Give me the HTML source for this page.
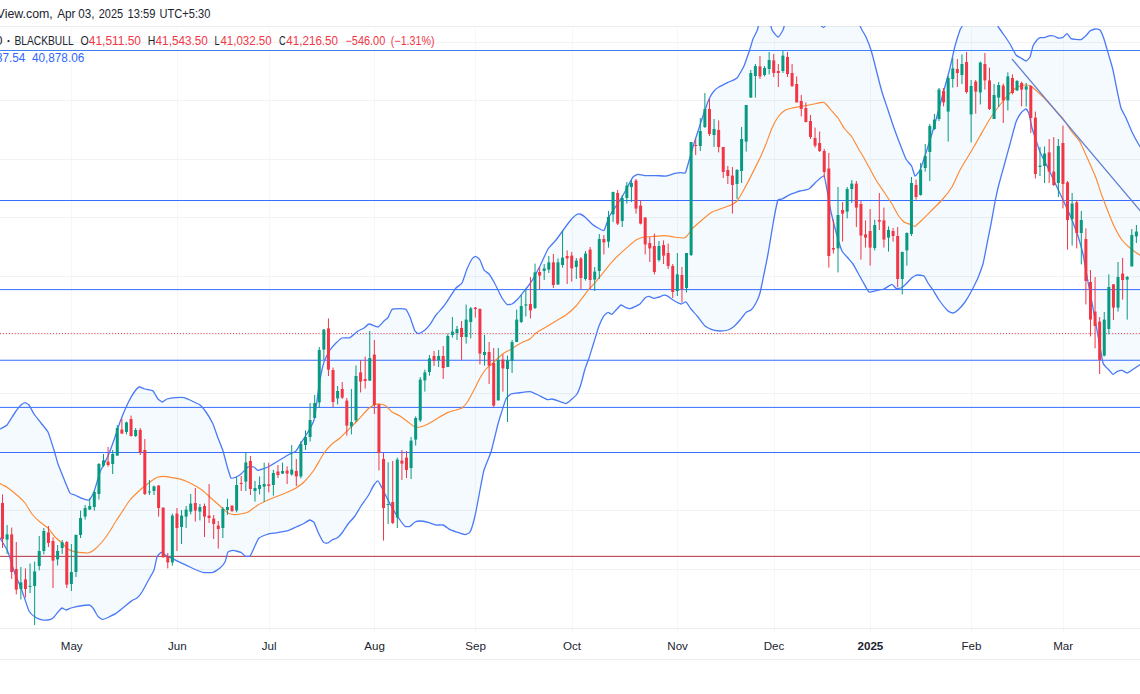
<!DOCTYPE html>
<html><head><meta charset="utf-8"><title>chart</title>
<style>
html,body{margin:0;padding:0;background:#fff;}
body{width:1140px;height:694px;position:relative;overflow:hidden;font-family:"Liberation Sans",sans-serif;color:#131722;}
svg text{font-family:"Liberation Sans",sans-serif;}
</style></head><body>
<svg width="1140" height="694" viewBox="0 0 1140 694" style="position:absolute;left:0;top:0"><defs><clipPath id="pane"><rect x="0" y="26" width="1140" height="602"/></clipPath></defs><rect x="71" y="26" width="1" height="606" fill="#f6f7f8"/><rect x="177" y="26" width="1" height="606" fill="#f6f7f8"/><rect x="269" y="26" width="1" height="606" fill="#f6f7f8"/><rect x="374" y="26" width="1" height="606" fill="#f6f7f8"/><rect x="475" y="26" width="1" height="606" fill="#f6f7f8"/><rect x="572" y="26" width="1" height="606" fill="#f6f7f8"/><rect x="677" y="26" width="1" height="606" fill="#f6f7f8"/><rect x="774" y="26" width="1" height="606" fill="#f6f7f8"/><rect x="870" y="26" width="1" height="606" fill="#f6f7f8"/><rect x="971" y="26" width="1" height="606" fill="#f6f7f8"/><rect x="1063" y="26" width="1" height="606" fill="#f6f7f8"/><rect x="0" y="42" width="1140" height="1" fill="#f1f3f4"/><rect x="0" y="100" width="1140" height="1" fill="#f1f3f4"/><rect x="0" y="159" width="1140" height="1" fill="#f1f3f4"/><rect x="0" y="217" width="1140" height="1" fill="#f1f3f4"/><rect x="0" y="276" width="1140" height="1" fill="#f1f3f4"/><rect x="0" y="334" width="1140" height="1" fill="#f1f3f4"/><rect x="0" y="393" width="1140" height="1" fill="#f1f3f4"/><rect x="0" y="452" width="1140" height="1" fill="#f1f3f4"/><rect x="0" y="510" width="1140" height="1" fill="#f1f3f4"/><rect x="0" y="569" width="1140" height="1" fill="#f1f3f4"/><rect x="0" y="26" width="1140" height="1" fill="#ececee"/><rect x="0" y="628" width="1140" height="1" fill="#ebecee"/><rect x="0" y="659" width="1140" height="1" fill="#ebecee"/><g clip-path="url(#pane)"><path d="M0.0,429.0C0.5,428.7 5.8,426.4 7.0,425.0C8.2,423.6 14.9,412.5 16.0,411.0C17.1,409.5 20.3,405.6 21.0,405.0C21.7,404.4 24.4,402.6 25.0,402.6C25.6,402.6 28.3,404.1 29.0,405.0C29.7,405.9 33.1,412.6 34.0,414.0C34.9,415.4 40.0,421.6 41.0,423.0C42.0,424.4 47.0,430.0 48.0,432.0C49.0,434.0 53.2,447.6 54.0,450.0C54.8,452.4 57.2,461.8 58.0,464.0C58.8,466.2 63.1,476.8 64.0,479.0C64.9,481.2 69.2,491.8 70.0,493.0C70.8,494.2 74.1,494.6 75.0,495.0C75.9,495.4 81.0,498.0 82.0,498.4C83.0,498.8 88.1,500.5 89.0,500.0C89.9,499.5 93.2,494.1 94.0,492.0C94.8,489.9 99.0,474.7 100.0,472.0C101.0,469.3 107.0,458.4 108.0,456.0C109.0,453.6 113.1,442.6 114.0,440.0C114.9,437.4 119.0,424.8 120.0,422.0C121.0,419.2 126.9,405.3 128.0,403.0C129.1,400.7 134.1,392.2 135.0,391.0C135.9,389.8 138.7,387.1 139.4,387.0C140.2,386.9 144.0,388.7 145.0,389.0C146.0,389.3 152.0,390.2 153.0,391.0C154.0,391.8 157.3,398.2 158.0,399.0C158.7,399.8 161.7,402.0 162.4,402.0C163.1,402.0 166.0,399.3 167.0,399.0C168.0,398.7 174.7,397.7 176.0,397.6C177.3,397.5 182.8,397.3 184.0,397.6C185.2,397.9 190.8,400.4 192.0,401.0C193.2,401.6 198.9,404.2 200.0,405.0C201.1,405.8 205.0,410.6 206.0,412.0C207.0,413.4 212.1,422.1 213.0,424.0C213.9,425.9 217.2,436.0 218.0,438.0C218.8,440.0 222.3,448.8 223.0,451.0C223.7,453.2 227.0,466.0 227.6,468.0C228.2,470.0 230.4,477.3 231.0,478.0C231.6,478.7 235.2,477.3 236.0,477.0C236.8,476.7 240.1,474.8 241.0,474.0C241.9,473.2 247.0,467.5 248.0,467.0C249.0,466.5 253.2,466.7 254.0,467.0C254.8,467.3 256.9,470.4 258.0,470.4C259.1,470.4 266.5,467.7 268.0,467.0C269.5,466.3 276.5,461.9 278.0,461.0C279.5,460.1 286.6,455.8 288.0,455.0C289.4,454.2 295.0,451.9 296.0,451.0C297.0,450.1 300.1,444.4 301.0,443.0C301.9,441.6 307.0,433.7 308.0,432.0C309.0,430.3 313.4,421.8 314.0,420.0C314.6,418.2 315.6,411.0 316.0,408.0C316.4,405.0 319.4,383.4 320.0,380.0C320.6,376.6 323.2,364.2 324.0,362.0C324.8,359.8 329.1,351.4 330.0,350.0C330.9,348.6 335.1,343.9 336.0,343.0C336.9,342.1 340.9,338.4 342.0,338.0C343.1,337.6 348.8,338.1 350.0,337.6C351.2,337.1 356.9,331.7 358.0,331.0C359.1,330.3 363.2,328.5 364.0,328.0C364.8,327.5 367.9,324.1 369.0,324.0C370.1,323.9 376.9,327.2 378.0,327.0C379.1,326.8 383.2,321.7 384.0,321.0C384.8,320.3 387.4,318.5 388.0,317.6C388.6,316.7 391.1,310.1 392.0,309.4C392.9,308.7 398.9,308.6 400.0,308.6C401.1,308.6 405.2,308.8 406.0,309.4C406.8,310.0 409.3,315.4 410.0,317.0C410.7,318.6 414.3,329.8 415.0,331.0C415.7,332.2 418.2,333.7 419.0,333.6C419.8,333.5 424.2,330.7 425.0,330.0C425.8,329.3 429.2,325.5 430.0,324.4C430.8,323.3 435.0,316.3 436.0,315.0C437.0,313.7 442.1,308.1 443.0,307.0C443.9,305.9 447.0,301.4 448.0,300.0C449.0,298.6 454.9,289.3 456.0,288.0C457.1,286.7 461.2,284.4 462.0,283.0C462.8,281.6 466.2,270.8 467.0,269.0C467.8,267.2 471.4,259.9 472.0,259.0C472.6,258.1 475.0,256.3 475.6,256.4C476.2,256.5 479.4,259.0 480.0,260.0C480.6,261.0 483.3,268.9 484.0,270.0C484.7,271.1 488.2,273.1 489.0,274.0C489.8,274.9 493.2,280.6 494.0,282.0C494.8,283.4 498.4,290.8 499.0,292.0C499.6,293.2 501.4,297.1 502.0,298.0C502.6,298.9 506.2,303.9 507.0,304.4C507.8,304.8 511.2,304.4 512.0,304.0C512.8,303.6 517.0,299.9 518.0,298.8C519.0,297.8 524.2,291.0 525.0,290.0C525.8,289.0 528.4,285.8 529.0,285.0C529.6,284.2 532.2,280.4 533.0,279.0C533.8,277.6 538.9,268.2 540.0,266.0C541.1,263.8 546.8,250.9 548.0,249.0C549.2,247.1 554.8,241.5 556.0,240.0C557.2,238.5 563.0,230.4 564.0,229.0C565.0,227.6 569.1,222.1 570.0,221.0C570.9,219.9 575.2,215.5 576.0,215.0C576.8,214.5 579.2,213.8 580.0,214.0C580.8,214.2 585.1,217.2 586.0,218.0C586.9,218.8 591.1,223.2 592.0,224.0C592.9,224.8 597.1,227.5 598.0,228.0C598.9,228.5 603.2,231.2 604.0,230.4C604.8,229.6 608.1,218.8 609.0,217.0C609.9,215.2 615.0,207.5 616.0,206.0C617.0,204.5 621.1,198.5 622.0,197.0C622.9,195.5 627.2,187.5 628.0,186.0C628.8,184.5 632.2,177.9 633.0,177.0C633.8,176.1 637.0,174.5 638.0,174.4C639.0,174.3 644.6,175.5 646.0,175.6C647.4,175.7 654.5,175.6 656.0,175.6C657.5,175.6 664.6,176.2 666.0,176.0C667.4,175.8 672.9,173.9 674.0,173.6C675.1,173.3 680.1,172.7 681.0,172.6C681.9,172.5 684.8,174.1 685.6,172.4C686.4,170.7 691.0,153.3 692.0,150.0C693.0,146.7 698.0,131.0 699.0,128.0C700.0,125.0 704.2,112.2 705.0,110.0C705.8,107.8 708.3,100.4 709.0,99.0C709.7,97.6 713.2,91.9 714.0,91.0C714.8,90.1 718.0,87.6 719.0,87.0C720.0,86.4 726.6,83.1 728.0,82.4C729.4,81.7 735.8,79.2 737.0,78.0C738.2,76.8 743.1,68.0 744.0,66.0C744.9,64.0 748.3,54.0 749.0,52.0C749.7,50.0 752.4,40.6 753.0,39.0C753.6,37.4 756.5,32.1 757.0,31.0C757.5,29.9 758.5,25.3 759.0,24.0C759.5,22.7 762.3,14.8 763.0,14.0C763.7,13.2 767.3,12.8 768.0,14.0C768.7,15.2 771.2,28.3 772.0,30.0C772.8,31.7 777.2,37.0 778.0,37.0C778.8,37.0 782.4,31.1 783.0,30.0C783.6,28.9 784.7,23.1 786.0,22.0C787.3,20.9 797.8,15.2 800.0,15.0C802.2,14.8 813.2,19.1 815.0,20.0C816.8,20.9 822.4,27.5 823.5,27.5C824.6,27.5 828.0,20.9 830.0,20.0C832.0,19.1 847.9,14.8 850.0,15.0C852.1,15.2 857.1,20.9 858.0,22.0C858.9,23.1 861.4,28.9 862.0,30.0C862.6,31.1 865.3,35.5 866.0,37.0C866.7,38.5 870.2,47.6 871.0,50.0C871.8,52.4 875.2,65.8 876.0,69.0C876.8,72.2 881.1,88.9 882.0,92.0C882.9,95.1 887.1,107.3 888.0,110.0C888.9,112.7 893.1,125.5 894.0,128.0C894.9,130.6 899.1,141.7 900.0,144.0C900.9,146.3 905.1,157.3 906.0,159.0C906.9,160.7 910.9,164.7 911.6,166.0C912.3,167.3 914.4,175.7 915.0,176.0C915.6,176.3 919.3,171.3 920.0,170.0C920.7,168.7 923.2,161.1 924.0,158.8C924.8,156.6 929.0,143.2 930.0,140.0C931.0,136.8 936.0,119.8 937.0,116.0C938.0,112.2 943.0,93.6 944.0,90.0C945.0,86.4 949.2,71.3 950.0,68.0C950.8,64.7 954.2,48.9 955.0,46.0C955.8,43.1 959.5,31.5 960.0,30.0C960.5,28.5 961.7,27.3 962.0,26.4C962.3,25.5 963.2,19.2 964.0,18.0C964.8,16.8 970.2,10.6 972.0,10.0C973.8,9.4 986.3,9.4 988.0,10.0C989.7,10.6 994.2,16.8 995.0,18.0C995.8,19.2 997.3,25.1 998.0,26.4C998.7,27.7 1003.1,33.7 1004.0,35.0C1004.9,36.3 1009.1,42.5 1010.0,44.0C1010.9,45.5 1015.2,54.0 1016.0,55.0C1016.8,56.0 1020.2,57.5 1021.0,58.0C1021.8,58.5 1025.3,61.1 1026.0,61.0C1026.7,60.9 1029.5,58.1 1030.0,57.0C1030.5,55.9 1032.5,47.3 1033.0,46.0C1033.5,44.7 1036.5,40.6 1037.0,40.0C1037.5,39.4 1039.5,37.8 1040.0,37.6C1040.5,37.4 1043.2,37.8 1044.0,37.6C1044.8,37.5 1049.2,35.7 1050.0,35.6C1050.8,35.5 1053.4,35.8 1054.0,36.0C1054.6,36.2 1057.3,37.9 1058.0,38.0C1058.7,38.1 1062.3,37.7 1063.0,37.4C1063.7,37.1 1066.4,33.5 1067.0,33.6C1067.6,33.7 1070.3,38.2 1071.0,38.6C1071.7,39.0 1075.2,39.3 1076.0,39.4C1076.8,39.5 1080.2,39.9 1081.0,39.6C1081.8,39.3 1085.3,36.2 1086.0,35.6C1086.7,35.0 1089.3,31.5 1090.0,31.0C1090.7,30.5 1094.2,29.1 1095.0,29.0C1095.8,28.9 1099.3,29.2 1100.0,30.0C1100.7,30.8 1103.3,37.0 1104.0,39.0C1104.7,41.0 1108.3,53.7 1109.0,56.0C1109.7,58.3 1112.4,67.5 1113.0,70.0C1113.6,72.5 1116.4,87.2 1117.0,90.0C1117.6,92.8 1120.3,105.9 1121.0,108.0C1121.7,110.1 1125.2,116.2 1126.0,118.0C1126.8,119.8 1131.0,129.9 1132.0,132.0C1133.0,134.1 1138.7,144.5 1139.6,146.0C1140.5,147.5 1143.7,151.6 1144.0,152.0L1144.0,362.0C1143.7,362.2 1140.5,364.4 1139.6,365.0C1138.7,365.6 1132.9,369.4 1132.0,370.0C1131.1,370.6 1127.8,373.0 1127.0,373.0C1126.2,373.0 1122.8,370.5 1122.0,370.4C1121.2,370.3 1117.7,371.3 1117.0,371.6C1116.3,371.9 1113.6,374.5 1113.0,374.4C1112.4,374.3 1109.8,370.9 1109.0,370.0C1108.2,369.1 1103.8,365.6 1103.0,363.0C1102.2,360.4 1098.8,340.1 1098.0,336.0C1097.2,331.9 1093.8,312.1 1093.0,308.0C1092.2,303.9 1088.8,286.1 1088.0,282.0C1087.2,277.9 1083.8,257.4 1083.0,254.0C1082.2,250.6 1078.8,238.6 1078.0,236.0C1077.2,233.4 1073.0,222.6 1072.0,220.0C1071.0,217.4 1065.2,204.6 1064.0,202.0C1062.8,199.4 1057.2,187.6 1056.0,185.0C1054.8,182.4 1049.2,170.5 1048.0,168.0C1046.8,165.5 1040.9,154.1 1040.0,152.0C1039.1,149.9 1036.6,141.8 1036.0,140.0C1035.4,138.2 1032.5,129.9 1032.0,128.0C1031.5,126.0 1029.5,115.4 1029.0,114.0C1028.5,112.6 1026.6,109.1 1026.0,109.0C1025.4,108.9 1021.8,112.0 1021.0,113.0C1020.2,114.0 1016.8,119.7 1016.0,122.0C1015.2,124.3 1010.9,140.7 1010.0,144.0C1009.1,147.3 1004.8,163.0 1004.0,166.0C1003.2,169.0 999.7,181.3 999.0,184.0C998.3,186.7 995.6,199.0 995.0,202.0C994.4,205.0 991.6,220.8 991.0,224.0C990.4,227.2 987.6,241.0 987.0,244.0C986.4,247.0 983.7,261.4 983.0,264.0C982.3,266.6 978.5,276.6 978.0,278.0C977.5,279.4 976.5,280.9 976.0,282.0C975.5,283.1 971.8,290.5 971.0,292.0C970.2,293.5 966.0,300.6 965.0,302.0C964.0,303.4 958.9,309.2 958.0,310.0C957.1,310.8 953.8,312.9 953.0,313.0C952.2,313.1 949.0,312.0 948.0,311.0C947.0,310.0 940.1,301.6 939.0,300.0C937.9,298.4 933.8,291.3 933.0,290.0C932.2,288.7 928.7,284.1 928.0,283.0C927.3,281.9 924.8,276.6 924.0,276.0C923.2,275.4 917.9,274.9 917.0,275.0C916.1,275.1 912.4,277.3 911.6,278.0C910.8,278.7 906.8,283.2 906.0,284.0C905.2,284.8 901.8,287.7 901.0,288.0C900.2,288.3 896.7,288.7 896.0,288.4C895.3,288.1 892.9,284.4 892.0,284.4C891.1,284.4 885.2,288.5 884.0,289.0C882.8,289.5 877.1,290.4 876.0,290.6C874.9,290.8 870.0,292.6 869.0,292.0C868.0,291.4 863.8,283.4 863.0,282.0C862.2,280.6 858.8,274.4 858.0,273.0C857.2,271.6 853.8,265.1 853.0,264.0C852.2,262.9 848.8,259.0 848.0,258.0C847.2,257.0 842.9,252.9 842.0,251.0C841.1,249.1 836.8,234.9 836.0,232.0C835.2,229.1 831.7,215.2 831.0,212.0C830.3,208.8 827.5,192.7 827.0,190.0C826.5,187.3 824.8,176.6 824.0,176.0C823.2,175.4 817.1,181.0 816.0,182.0C814.9,183.0 810.2,188.3 809.0,189.0C807.8,189.7 801.2,190.7 800.0,191.0C798.8,191.3 793.9,193.1 793.0,193.4C792.1,193.7 788.8,195.2 788.0,195.6C787.2,196.0 782.8,198.7 782.0,199.0C781.2,199.3 778.5,199.3 778.0,200.0C777.5,200.7 776.4,206.2 776.0,208.0C775.6,209.8 773.6,220.6 773.0,224.0C772.4,227.4 768.7,250.2 768.0,254.0C767.3,257.8 764.6,271.1 764.0,274.0C763.4,276.9 760.6,290.8 760.0,293.0C759.4,295.2 756.7,301.7 756.0,303.0C755.3,304.3 751.8,309.3 751.0,310.0C750.2,310.7 746.8,311.6 746.0,312.4C745.2,313.1 740.9,318.9 740.0,320.0C739.1,321.1 734.9,325.6 734.0,326.4C733.1,327.1 729.0,329.7 728.0,330.0C727.0,330.3 721.2,331.0 720.0,331.0C718.8,331.0 713.1,330.0 712.0,329.6C710.9,329.2 706.0,326.9 705.0,326.0C704.0,325.1 699.0,318.3 698.0,317.0C697.0,315.7 691.9,310.1 691.0,309.0C690.1,307.9 686.8,302.4 686.0,302.0C685.2,301.6 682.0,304.1 681.0,304.0C680.0,303.9 674.0,300.6 673.0,300.0C672.0,299.4 668.7,296.8 668.0,296.4C667.3,296.0 664.7,295.2 664.0,295.2C663.3,295.2 659.8,296.8 659.0,297.0C658.2,297.2 654.8,298.4 654.0,298.4C653.2,298.4 649.7,296.4 649.0,296.4C648.3,296.4 645.7,297.4 645.0,298.0C644.3,298.6 641.0,303.2 640.0,304.0C639.0,304.8 632.0,308.1 631.0,308.4C630.0,308.7 626.8,307.9 626.0,307.6C625.2,307.3 621.8,304.8 621.0,305.0C620.2,305.2 616.7,309.3 616.0,310.0C615.3,310.7 612.6,314.2 612.0,314.4C611.4,314.6 608.6,312.3 608.0,312.4C607.4,312.5 604.7,314.6 604.0,315.6C603.3,316.6 599.8,324.0 599.0,326.0C598.2,328.0 594.8,339.6 594.0,342.0C593.2,344.4 589.7,356.0 589.0,358.0C588.3,360.0 585.6,367.1 585.0,369.0C584.4,370.9 581.6,382.1 581.0,384.0C580.4,385.9 577.7,392.9 577.0,394.0C576.3,395.1 572.8,398.3 572.0,399.0C571.2,399.7 566.9,403.4 566.0,403.6C565.1,403.8 561.0,401.9 560.0,401.6C559.0,401.3 553.0,399.1 552.0,399.0C551.0,398.9 548.0,399.9 547.0,399.6C546.0,399.3 539.3,395.6 538.0,395.0C536.7,394.4 531.5,391.8 530.0,391.6C528.5,391.5 519.4,392.8 518.0,393.0C516.6,393.2 511.9,393.6 511.0,394.0C510.1,394.4 506.8,397.5 506.0,399.0C505.2,400.5 501.6,412.1 501.0,414.0C500.4,415.9 498.8,421.1 498.0,424.0C497.2,426.9 492.1,448.6 491.0,452.0C489.9,455.4 484.8,467.1 484.0,470.0C483.2,472.9 480.5,487.3 480.0,490.0C479.5,492.7 477.4,503.8 477.0,506.0C476.6,508.2 474.5,518.0 474.0,520.0C473.5,522.0 470.7,530.9 470.0,532.0C469.3,533.1 465.9,534.6 465.0,534.6C464.1,534.6 459.1,532.8 458.0,532.4C456.9,532.0 451.1,530.2 450.0,529.6C448.9,529.0 444.1,525.3 443.0,525.0C441.9,524.7 437.1,525.2 436.0,525.0C434.9,524.8 429.2,522.7 428.0,522.4C426.8,522.1 421.0,521.0 420.0,521.0C419.0,521.0 415.8,521.6 415.0,522.0C414.2,522.4 410.8,526.1 410.0,526.4C409.2,526.7 405.8,526.9 405.0,526.4C404.2,525.9 400.8,521.2 400.0,520.0C399.2,518.8 394.9,512.5 394.0,511.0C393.1,509.5 388.9,501.7 388.0,500.0C387.1,498.3 382.8,489.4 382.0,488.0C381.2,486.6 378.6,481.2 378.0,481.0C377.4,480.8 374.8,483.9 374.0,485.0C373.2,486.1 369.0,494.4 368.0,496.0C367.0,497.6 362.0,504.5 361.0,506.0C360.0,507.5 356.0,514.6 355.0,516.0C354.0,517.4 349.0,522.7 348.0,524.0C347.0,525.3 342.8,532.0 342.0,533.0C341.2,534.0 337.8,537.5 337.0,538.0C336.2,538.5 332.7,539.6 332.0,540.0C331.3,540.4 328.6,542.8 328.0,543.0C327.4,543.2 324.4,543.2 323.6,542.4C322.9,541.6 318.7,533.5 318.0,532.0C317.3,530.5 314.6,523.3 314.0,522.4C313.4,521.5 310.4,519.9 309.6,520.0C308.8,520.1 304.0,523.5 303.0,524.0C302.0,524.5 297.1,526.5 296.0,527.0C294.9,527.5 289.4,530.2 288.0,530.6C286.6,531.0 279.5,532.3 278.0,532.6C276.5,532.9 269.4,533.6 268.0,534.0C266.6,534.4 260.1,537.0 259.0,538.0C257.9,539.0 254.7,546.6 254.0,548.0C253.3,549.4 250.7,555.4 250.0,556.0C249.3,556.6 245.7,556.3 245.0,556.0C244.3,555.7 241.9,552.8 241.0,552.4C240.1,552.0 234.0,550.4 233.0,550.4C232.0,550.4 228.6,551.1 228.0,552.0C227.4,552.9 225.6,560.8 225.0,562.0C224.4,563.2 220.9,567.2 220.0,568.0C219.1,568.8 214.3,572.1 213.0,572.4C211.7,572.7 204.6,572.7 203.0,572.4C201.4,572.1 193.7,568.8 192.0,568.0C190.3,567.2 181.5,563.1 180.0,562.4C178.5,561.7 173.2,559.0 172.0,558.4C170.8,557.8 164.8,554.9 164.0,554.4C163.2,553.9 161.5,552.2 161.0,552.4C160.5,552.6 157.5,555.7 157.0,557.0C156.5,558.3 154.7,568.2 154.0,570.0C153.3,571.8 148.9,579.4 148.0,581.0C147.1,582.6 142.8,590.7 142.0,592.0C141.2,593.3 137.8,597.4 137.0,598.0C136.2,598.6 133.0,599.9 132.0,600.6C131.0,601.3 125.2,606.0 124.0,607.0C122.8,608.0 117.1,612.6 116.0,613.4C114.9,614.1 110.0,616.5 109.0,617.0C108.0,617.5 103.4,619.4 102.6,619.4C101.8,619.4 98.7,617.3 98.0,616.4C97.3,615.5 93.7,608.9 93.0,608.0C92.3,607.1 90.0,605.1 89.0,605.0C88.0,604.9 81.3,605.8 80.0,606.0C78.7,606.2 72.0,607.7 71.0,608.0C70.0,608.3 66.7,610.0 66.0,610.0C65.3,610.0 62.6,607.9 62.0,608.0C61.4,608.1 58.7,611.2 58.0,612.0C57.3,612.8 53.8,617.4 53.0,618.0C52.2,618.6 48.9,619.9 48.0,620.0C47.1,620.1 42.0,619.8 41.0,619.6C40.0,619.4 35.9,617.6 35.0,617.0C34.1,616.4 30.1,613.2 29.0,611.0C27.9,608.8 22.1,590.8 21.0,588.0C19.9,585.2 16.0,576.7 15.0,574.0C14.0,571.3 9.1,554.7 8.0,552.0C6.9,549.3 0.8,539.3 0.0,538.0C-0.8,536.7 -1.9,535.2 -2.0,535.0Z" fill="#2196f3" fill-opacity="0.05" stroke="none"/><rect x="0" y="50.0" width="1140" height="1" fill="#3276f5" fill-opacity="0.93"/><rect x="0" y="200.0" width="1140" height="1" fill="#2962ff" fill-opacity="0.93"/><rect x="0" y="289.1" width="1140" height="1" fill="#2962ff" fill-opacity="0.93"/><rect x="0" y="359.75" width="1140" height="1" fill="#2962ff" fill-opacity="0.93"/><rect x="0" y="406.9" width="1140" height="1" fill="#2962ff" fill-opacity="0.93"/><rect x="0" y="452.0" width="1140" height="1" fill="#2962ff" fill-opacity="0.93"/><rect x="0" y="555.85" width="1140" height="1" fill="#b22833" fill-opacity="0.95"/><line x1="0" y1="333.5" x2="1140" y2="333.5" stroke="#f23645" stroke-opacity="0.95" stroke-width="1.15" stroke-dasharray="1,1.95"/><path d="M0.0,429.0C0.5,428.7 5.8,426.4 7.0,425.0C8.2,423.6 14.9,412.5 16.0,411.0C17.1,409.5 20.3,405.6 21.0,405.0C21.7,404.4 24.4,402.6 25.0,402.6C25.6,402.6 28.3,404.1 29.0,405.0C29.7,405.9 33.1,412.6 34.0,414.0C34.9,415.4 40.0,421.6 41.0,423.0C42.0,424.4 47.0,430.0 48.0,432.0C49.0,434.0 53.2,447.6 54.0,450.0C54.8,452.4 57.2,461.8 58.0,464.0C58.8,466.2 63.1,476.8 64.0,479.0C64.9,481.2 69.2,491.8 70.0,493.0C70.8,494.2 74.1,494.6 75.0,495.0C75.9,495.4 81.0,498.0 82.0,498.4C83.0,498.8 88.1,500.5 89.0,500.0C89.9,499.5 93.2,494.1 94.0,492.0C94.8,489.9 99.0,474.7 100.0,472.0C101.0,469.3 107.0,458.4 108.0,456.0C109.0,453.6 113.1,442.6 114.0,440.0C114.9,437.4 119.0,424.8 120.0,422.0C121.0,419.2 126.9,405.3 128.0,403.0C129.1,400.7 134.1,392.2 135.0,391.0C135.9,389.8 138.7,387.1 139.4,387.0C140.2,386.9 144.0,388.7 145.0,389.0C146.0,389.3 152.0,390.2 153.0,391.0C154.0,391.8 157.3,398.2 158.0,399.0C158.7,399.8 161.7,402.0 162.4,402.0C163.1,402.0 166.0,399.3 167.0,399.0C168.0,398.7 174.7,397.7 176.0,397.6C177.3,397.5 182.8,397.3 184.0,397.6C185.2,397.9 190.8,400.4 192.0,401.0C193.2,401.6 198.9,404.2 200.0,405.0C201.1,405.8 205.0,410.6 206.0,412.0C207.0,413.4 212.1,422.1 213.0,424.0C213.9,425.9 217.2,436.0 218.0,438.0C218.8,440.0 222.3,448.8 223.0,451.0C223.7,453.2 227.0,466.0 227.6,468.0C228.2,470.0 230.4,477.3 231.0,478.0C231.6,478.7 235.2,477.3 236.0,477.0C236.8,476.7 240.1,474.8 241.0,474.0C241.9,473.2 247.0,467.5 248.0,467.0C249.0,466.5 253.2,466.7 254.0,467.0C254.8,467.3 256.9,470.4 258.0,470.4C259.1,470.4 266.5,467.7 268.0,467.0C269.5,466.3 276.5,461.9 278.0,461.0C279.5,460.1 286.6,455.8 288.0,455.0C289.4,454.2 295.0,451.9 296.0,451.0C297.0,450.1 300.1,444.4 301.0,443.0C301.9,441.6 307.0,433.7 308.0,432.0C309.0,430.3 313.4,421.8 314.0,420.0C314.6,418.2 315.6,411.0 316.0,408.0C316.4,405.0 319.4,383.4 320.0,380.0C320.6,376.6 323.2,364.2 324.0,362.0C324.8,359.8 329.1,351.4 330.0,350.0C330.9,348.6 335.1,343.9 336.0,343.0C336.9,342.1 340.9,338.4 342.0,338.0C343.1,337.6 348.8,338.1 350.0,337.6C351.2,337.1 356.9,331.7 358.0,331.0C359.1,330.3 363.2,328.5 364.0,328.0C364.8,327.5 367.9,324.1 369.0,324.0C370.1,323.9 376.9,327.2 378.0,327.0C379.1,326.8 383.2,321.7 384.0,321.0C384.8,320.3 387.4,318.5 388.0,317.6C388.6,316.7 391.1,310.1 392.0,309.4C392.9,308.7 398.9,308.6 400.0,308.6C401.1,308.6 405.2,308.8 406.0,309.4C406.8,310.0 409.3,315.4 410.0,317.0C410.7,318.6 414.3,329.8 415.0,331.0C415.7,332.2 418.2,333.7 419.0,333.6C419.8,333.5 424.2,330.7 425.0,330.0C425.8,329.3 429.2,325.5 430.0,324.4C430.8,323.3 435.0,316.3 436.0,315.0C437.0,313.7 442.1,308.1 443.0,307.0C443.9,305.9 447.0,301.4 448.0,300.0C449.0,298.6 454.9,289.3 456.0,288.0C457.1,286.7 461.2,284.4 462.0,283.0C462.8,281.6 466.2,270.8 467.0,269.0C467.8,267.2 471.4,259.9 472.0,259.0C472.6,258.1 475.0,256.3 475.6,256.4C476.2,256.5 479.4,259.0 480.0,260.0C480.6,261.0 483.3,268.9 484.0,270.0C484.7,271.1 488.2,273.1 489.0,274.0C489.8,274.9 493.2,280.6 494.0,282.0C494.8,283.4 498.4,290.8 499.0,292.0C499.6,293.2 501.4,297.1 502.0,298.0C502.6,298.9 506.2,303.9 507.0,304.4C507.8,304.8 511.2,304.4 512.0,304.0C512.8,303.6 517.0,299.9 518.0,298.8C519.0,297.8 524.2,291.0 525.0,290.0C525.8,289.0 528.4,285.8 529.0,285.0C529.6,284.2 532.2,280.4 533.0,279.0C533.8,277.6 538.9,268.2 540.0,266.0C541.1,263.8 546.8,250.9 548.0,249.0C549.2,247.1 554.8,241.5 556.0,240.0C557.2,238.5 563.0,230.4 564.0,229.0C565.0,227.6 569.1,222.1 570.0,221.0C570.9,219.9 575.2,215.5 576.0,215.0C576.8,214.5 579.2,213.8 580.0,214.0C580.8,214.2 585.1,217.2 586.0,218.0C586.9,218.8 591.1,223.2 592.0,224.0C592.9,224.8 597.1,227.5 598.0,228.0C598.9,228.5 603.2,231.2 604.0,230.4C604.8,229.6 608.1,218.8 609.0,217.0C609.9,215.2 615.0,207.5 616.0,206.0C617.0,204.5 621.1,198.5 622.0,197.0C622.9,195.5 627.2,187.5 628.0,186.0C628.8,184.5 632.2,177.9 633.0,177.0C633.8,176.1 637.0,174.5 638.0,174.4C639.0,174.3 644.6,175.5 646.0,175.6C647.4,175.7 654.5,175.6 656.0,175.6C657.5,175.6 664.6,176.2 666.0,176.0C667.4,175.8 672.9,173.9 674.0,173.6C675.1,173.3 680.1,172.7 681.0,172.6C681.9,172.5 684.8,174.1 685.6,172.4C686.4,170.7 691.0,153.3 692.0,150.0C693.0,146.7 698.0,131.0 699.0,128.0C700.0,125.0 704.2,112.2 705.0,110.0C705.8,107.8 708.3,100.4 709.0,99.0C709.7,97.6 713.2,91.9 714.0,91.0C714.8,90.1 718.0,87.6 719.0,87.0C720.0,86.4 726.6,83.1 728.0,82.4C729.4,81.7 735.8,79.2 737.0,78.0C738.2,76.8 743.1,68.0 744.0,66.0C744.9,64.0 748.3,54.0 749.0,52.0C749.7,50.0 752.4,40.6 753.0,39.0C753.6,37.4 756.5,32.1 757.0,31.0C757.5,29.9 758.5,25.3 759.0,24.0C759.5,22.7 762.3,14.8 763.0,14.0C763.7,13.2 767.3,12.8 768.0,14.0C768.7,15.2 771.2,28.3 772.0,30.0C772.8,31.7 777.2,37.0 778.0,37.0C778.8,37.0 782.4,31.1 783.0,30.0C783.6,28.9 784.7,23.1 786.0,22.0C787.3,20.9 797.8,15.2 800.0,15.0C802.2,14.8 813.2,19.1 815.0,20.0C816.8,20.9 822.4,27.5 823.5,27.5C824.6,27.5 828.0,20.9 830.0,20.0C832.0,19.1 847.9,14.8 850.0,15.0C852.1,15.2 857.1,20.9 858.0,22.0C858.9,23.1 861.4,28.9 862.0,30.0C862.6,31.1 865.3,35.5 866.0,37.0C866.7,38.5 870.2,47.6 871.0,50.0C871.8,52.4 875.2,65.8 876.0,69.0C876.8,72.2 881.1,88.9 882.0,92.0C882.9,95.1 887.1,107.3 888.0,110.0C888.9,112.7 893.1,125.5 894.0,128.0C894.9,130.6 899.1,141.7 900.0,144.0C900.9,146.3 905.1,157.3 906.0,159.0C906.9,160.7 910.9,164.7 911.6,166.0C912.3,167.3 914.4,175.7 915.0,176.0C915.6,176.3 919.3,171.3 920.0,170.0C920.7,168.7 923.2,161.1 924.0,158.8C924.8,156.6 929.0,143.2 930.0,140.0C931.0,136.8 936.0,119.8 937.0,116.0C938.0,112.2 943.0,93.6 944.0,90.0C945.0,86.4 949.2,71.3 950.0,68.0C950.8,64.7 954.2,48.9 955.0,46.0C955.8,43.1 959.5,31.5 960.0,30.0C960.5,28.5 961.7,27.3 962.0,26.4C962.3,25.5 963.2,19.2 964.0,18.0C964.8,16.8 970.2,10.6 972.0,10.0C973.8,9.4 986.3,9.4 988.0,10.0C989.7,10.6 994.2,16.8 995.0,18.0C995.8,19.2 997.3,25.1 998.0,26.4C998.7,27.7 1003.1,33.7 1004.0,35.0C1004.9,36.3 1009.1,42.5 1010.0,44.0C1010.9,45.5 1015.2,54.0 1016.0,55.0C1016.8,56.0 1020.2,57.5 1021.0,58.0C1021.8,58.5 1025.3,61.1 1026.0,61.0C1026.7,60.9 1029.5,58.1 1030.0,57.0C1030.5,55.9 1032.5,47.3 1033.0,46.0C1033.5,44.7 1036.5,40.6 1037.0,40.0C1037.5,39.4 1039.5,37.8 1040.0,37.6C1040.5,37.4 1043.2,37.8 1044.0,37.6C1044.8,37.5 1049.2,35.7 1050.0,35.6C1050.8,35.5 1053.4,35.8 1054.0,36.0C1054.6,36.2 1057.3,37.9 1058.0,38.0C1058.7,38.1 1062.3,37.7 1063.0,37.4C1063.7,37.1 1066.4,33.5 1067.0,33.6C1067.6,33.7 1070.3,38.2 1071.0,38.6C1071.7,39.0 1075.2,39.3 1076.0,39.4C1076.8,39.5 1080.2,39.9 1081.0,39.6C1081.8,39.3 1085.3,36.2 1086.0,35.6C1086.7,35.0 1089.3,31.5 1090.0,31.0C1090.7,30.5 1094.2,29.1 1095.0,29.0C1095.8,28.9 1099.3,29.2 1100.0,30.0C1100.7,30.8 1103.3,37.0 1104.0,39.0C1104.7,41.0 1108.3,53.7 1109.0,56.0C1109.7,58.3 1112.4,67.5 1113.0,70.0C1113.6,72.5 1116.4,87.2 1117.0,90.0C1117.6,92.8 1120.3,105.9 1121.0,108.0C1121.7,110.1 1125.2,116.2 1126.0,118.0C1126.8,119.8 1131.0,129.9 1132.0,132.0C1133.0,134.1 1138.7,144.5 1139.6,146.0C1140.5,147.5 1143.7,151.6 1144.0,152.0" fill="none" stroke="#4a7af6" stroke-width="1.3" stroke-linejoin="round"/><path d="M-2.0,535.0C-1.9,535.2 -0.8,536.7 0.0,538.0C0.8,539.3 6.9,549.3 8.0,552.0C9.1,554.7 14.0,571.3 15.0,574.0C16.0,576.7 19.9,585.2 21.0,588.0C22.1,590.8 27.9,608.8 29.0,611.0C30.1,613.2 34.1,616.4 35.0,617.0C35.9,617.6 40.0,619.4 41.0,619.6C42.0,619.8 47.1,620.1 48.0,620.0C48.9,619.9 52.2,618.6 53.0,618.0C53.8,617.4 57.3,612.8 58.0,612.0C58.7,611.2 61.4,608.1 62.0,608.0C62.6,607.9 65.3,610.0 66.0,610.0C66.7,610.0 70.0,608.3 71.0,608.0C72.0,607.7 78.7,606.2 80.0,606.0C81.3,605.8 88.0,604.9 89.0,605.0C90.0,605.1 92.3,607.1 93.0,608.0C93.7,608.9 97.3,615.5 98.0,616.4C98.7,617.3 101.8,619.4 102.6,619.4C103.4,619.4 108.0,617.5 109.0,617.0C110.0,616.5 114.9,614.1 116.0,613.4C117.1,612.6 122.8,608.0 124.0,607.0C125.2,606.0 131.0,601.3 132.0,600.6C133.0,599.9 136.2,598.6 137.0,598.0C137.8,597.4 141.2,593.3 142.0,592.0C142.8,590.7 147.1,582.6 148.0,581.0C148.9,579.4 153.3,571.8 154.0,570.0C154.7,568.2 156.5,558.3 157.0,557.0C157.5,555.7 160.5,552.6 161.0,552.4C161.5,552.2 163.2,553.9 164.0,554.4C164.8,554.9 170.8,557.8 172.0,558.4C173.2,559.0 178.5,561.7 180.0,562.4C181.5,563.1 190.3,567.2 192.0,568.0C193.7,568.8 201.4,572.1 203.0,572.4C204.6,572.7 211.7,572.7 213.0,572.4C214.3,572.1 219.1,568.8 220.0,568.0C220.9,567.2 224.4,563.2 225.0,562.0C225.6,560.8 227.4,552.9 228.0,552.0C228.6,551.1 232.0,550.4 233.0,550.4C234.0,550.4 240.1,552.0 241.0,552.4C241.9,552.8 244.3,555.7 245.0,556.0C245.7,556.3 249.3,556.6 250.0,556.0C250.7,555.4 253.3,549.4 254.0,548.0C254.7,546.6 257.9,539.0 259.0,538.0C260.1,537.0 266.6,534.4 268.0,534.0C269.4,533.6 276.5,532.9 278.0,532.6C279.5,532.3 286.6,531.0 288.0,530.6C289.4,530.2 294.9,527.5 296.0,527.0C297.1,526.5 302.0,524.5 303.0,524.0C304.0,523.5 308.8,520.1 309.6,520.0C310.4,519.9 313.4,521.5 314.0,522.4C314.6,523.3 317.3,530.5 318.0,532.0C318.7,533.5 322.9,541.6 323.6,542.4C324.4,543.2 327.4,543.2 328.0,543.0C328.6,542.8 331.3,540.4 332.0,540.0C332.7,539.6 336.2,538.5 337.0,538.0C337.8,537.5 341.2,534.0 342.0,533.0C342.8,532.0 347.0,525.3 348.0,524.0C349.0,522.7 354.0,517.4 355.0,516.0C356.0,514.6 360.0,507.5 361.0,506.0C362.0,504.5 367.0,497.6 368.0,496.0C369.0,494.4 373.2,486.1 374.0,485.0C374.8,483.9 377.4,480.8 378.0,481.0C378.6,481.2 381.2,486.6 382.0,488.0C382.8,489.4 387.1,498.3 388.0,500.0C388.9,501.7 393.1,509.5 394.0,511.0C394.9,512.5 399.2,518.8 400.0,520.0C400.8,521.2 404.2,525.9 405.0,526.4C405.8,526.9 409.2,526.7 410.0,526.4C410.8,526.1 414.2,522.4 415.0,522.0C415.8,521.6 419.0,521.0 420.0,521.0C421.0,521.0 426.8,522.1 428.0,522.4C429.2,522.7 434.9,524.8 436.0,525.0C437.1,525.2 441.9,524.7 443.0,525.0C444.1,525.3 448.9,529.0 450.0,529.6C451.1,530.2 456.9,532.0 458.0,532.4C459.1,532.8 464.1,534.6 465.0,534.6C465.9,534.6 469.3,533.1 470.0,532.0C470.7,530.9 473.5,522.0 474.0,520.0C474.5,518.0 476.6,508.2 477.0,506.0C477.4,503.8 479.5,492.7 480.0,490.0C480.5,487.3 483.2,472.9 484.0,470.0C484.8,467.1 489.9,455.4 491.0,452.0C492.1,448.6 497.2,426.9 498.0,424.0C498.8,421.1 500.4,415.9 501.0,414.0C501.6,412.1 505.2,400.5 506.0,399.0C506.8,397.5 510.1,394.4 511.0,394.0C511.9,393.6 516.6,393.2 518.0,393.0C519.4,392.8 528.5,391.5 530.0,391.6C531.5,391.8 536.7,394.4 538.0,395.0C539.3,395.6 546.0,399.3 547.0,399.6C548.0,399.9 551.0,398.9 552.0,399.0C553.0,399.1 559.0,401.3 560.0,401.6C561.0,401.9 565.1,403.8 566.0,403.6C566.9,403.4 571.2,399.7 572.0,399.0C572.8,398.3 576.3,395.1 577.0,394.0C577.7,392.9 580.4,385.9 581.0,384.0C581.6,382.1 584.4,370.9 585.0,369.0C585.6,367.1 588.3,360.0 589.0,358.0C589.7,356.0 593.2,344.4 594.0,342.0C594.8,339.6 598.2,328.0 599.0,326.0C599.8,324.0 603.3,316.6 604.0,315.6C604.7,314.6 607.4,312.5 608.0,312.4C608.6,312.3 611.4,314.6 612.0,314.4C612.6,314.2 615.3,310.7 616.0,310.0C616.7,309.3 620.2,305.2 621.0,305.0C621.8,304.8 625.2,307.3 626.0,307.6C626.8,307.9 630.0,308.7 631.0,308.4C632.0,308.1 639.0,304.8 640.0,304.0C641.0,303.2 644.3,298.6 645.0,298.0C645.7,297.4 648.3,296.4 649.0,296.4C649.7,296.4 653.2,298.4 654.0,298.4C654.8,298.4 658.2,297.2 659.0,297.0C659.8,296.8 663.3,295.2 664.0,295.2C664.7,295.2 667.3,296.0 668.0,296.4C668.7,296.8 672.0,299.4 673.0,300.0C674.0,300.6 680.0,303.9 681.0,304.0C682.0,304.1 685.2,301.6 686.0,302.0C686.8,302.4 690.1,307.9 691.0,309.0C691.9,310.1 697.0,315.7 698.0,317.0C699.0,318.3 704.0,325.1 705.0,326.0C706.0,326.9 710.9,329.2 712.0,329.6C713.1,330.0 718.8,331.0 720.0,331.0C721.2,331.0 727.0,330.3 728.0,330.0C729.0,329.7 733.1,327.1 734.0,326.4C734.9,325.6 739.1,321.1 740.0,320.0C740.9,318.9 745.2,313.1 746.0,312.4C746.8,311.6 750.2,310.7 751.0,310.0C751.8,309.3 755.3,304.3 756.0,303.0C756.7,301.7 759.4,295.2 760.0,293.0C760.6,290.8 763.4,276.9 764.0,274.0C764.6,271.1 767.3,257.8 768.0,254.0C768.7,250.2 772.4,227.4 773.0,224.0C773.6,220.6 775.6,209.8 776.0,208.0C776.4,206.2 777.5,200.7 778.0,200.0C778.5,199.3 781.2,199.3 782.0,199.0C782.8,198.7 787.2,196.0 788.0,195.6C788.8,195.2 792.1,193.7 793.0,193.4C793.9,193.1 798.8,191.3 800.0,191.0C801.2,190.7 807.8,189.7 809.0,189.0C810.2,188.3 814.9,183.0 816.0,182.0C817.1,181.0 823.2,175.4 824.0,176.0C824.8,176.6 826.5,187.3 827.0,190.0C827.5,192.7 830.3,208.8 831.0,212.0C831.7,215.2 835.2,229.1 836.0,232.0C836.8,234.9 841.1,249.1 842.0,251.0C842.9,252.9 847.2,257.0 848.0,258.0C848.8,259.0 852.2,262.9 853.0,264.0C853.8,265.1 857.2,271.6 858.0,273.0C858.8,274.4 862.2,280.6 863.0,282.0C863.8,283.4 868.0,291.4 869.0,292.0C870.0,292.6 874.9,290.8 876.0,290.6C877.1,290.4 882.8,289.5 884.0,289.0C885.2,288.5 891.1,284.4 892.0,284.4C892.9,284.4 895.3,288.1 896.0,288.4C896.7,288.7 900.2,288.3 901.0,288.0C901.8,287.7 905.2,284.8 906.0,284.0C906.8,283.2 910.8,278.7 911.6,278.0C912.4,277.3 916.1,275.1 917.0,275.0C917.9,274.9 923.2,275.4 924.0,276.0C924.8,276.6 927.3,281.9 928.0,283.0C928.7,284.1 932.2,288.7 933.0,290.0C933.8,291.3 937.9,298.4 939.0,300.0C940.1,301.6 947.0,310.0 948.0,311.0C949.0,312.0 952.2,313.1 953.0,313.0C953.8,312.9 957.1,310.8 958.0,310.0C958.9,309.2 964.0,303.4 965.0,302.0C966.0,300.6 970.2,293.5 971.0,292.0C971.8,290.5 975.5,283.1 976.0,282.0C976.5,280.9 977.5,279.4 978.0,278.0C978.5,276.6 982.3,266.6 983.0,264.0C983.7,261.4 986.4,247.0 987.0,244.0C987.6,241.0 990.4,227.2 991.0,224.0C991.6,220.8 994.4,205.0 995.0,202.0C995.6,199.0 998.3,186.7 999.0,184.0C999.7,181.3 1003.2,169.0 1004.0,166.0C1004.8,163.0 1009.1,147.3 1010.0,144.0C1010.9,140.7 1015.2,124.3 1016.0,122.0C1016.8,119.7 1020.2,114.0 1021.0,113.0C1021.8,112.0 1025.4,108.9 1026.0,109.0C1026.6,109.1 1028.5,112.6 1029.0,114.0C1029.5,115.4 1031.5,126.0 1032.0,128.0C1032.5,129.9 1035.4,138.2 1036.0,140.0C1036.6,141.8 1039.1,149.9 1040.0,152.0C1040.9,154.1 1046.8,165.5 1048.0,168.0C1049.2,170.5 1054.8,182.4 1056.0,185.0C1057.2,187.6 1062.8,199.4 1064.0,202.0C1065.2,204.6 1071.0,217.4 1072.0,220.0C1073.0,222.6 1077.2,233.4 1078.0,236.0C1078.8,238.6 1082.2,250.6 1083.0,254.0C1083.8,257.4 1087.2,277.9 1088.0,282.0C1088.8,286.1 1092.2,303.9 1093.0,308.0C1093.8,312.1 1097.2,331.9 1098.0,336.0C1098.8,340.1 1102.2,360.4 1103.0,363.0C1103.8,365.6 1108.2,369.1 1109.0,370.0C1109.8,370.9 1112.4,374.3 1113.0,374.4C1113.6,374.5 1116.3,371.9 1117.0,371.6C1117.7,371.3 1121.2,370.3 1122.0,370.4C1122.8,370.5 1126.2,373.0 1127.0,373.0C1127.8,373.0 1131.1,370.6 1132.0,370.0C1132.9,369.4 1138.7,365.6 1139.6,365.0C1140.5,364.4 1143.7,362.2 1144.0,362.0" fill="none" stroke="#4a7af6" stroke-width="1.3" stroke-linejoin="round"/><path d="M-2.0,482.6C-1.9,482.7 -0.8,483.2 0.0,483.6C0.8,484.0 6.7,487.1 8.0,488.0C9.3,488.9 16.7,494.9 18.0,496.0C19.3,497.1 23.9,501.6 25.0,503.0C26.1,504.4 30.9,512.6 32.0,514.0C33.1,515.4 38.8,521.0 40.0,522.0C41.2,523.0 46.9,526.9 48.0,528.0C49.1,529.1 54.0,535.9 55.0,537.0C56.0,538.1 61.0,542.1 62.0,543.0C63.0,543.9 67.1,548.4 68.0,549.0C68.9,549.6 73.0,551.3 74.0,551.6C75.0,551.9 81.0,552.5 82.0,552.6C83.0,552.7 87.1,553.2 88.0,553.0C88.9,552.8 93.0,550.8 94.0,550.0C95.0,549.2 100.8,543.4 102.0,542.0C103.2,540.6 109.0,532.6 110.0,531.0C111.0,529.4 115.1,522.4 116.0,521.0C116.9,519.6 121.0,513.6 122.0,512.0C123.0,510.4 128.7,501.6 130.0,500.0C131.3,498.4 138.5,491.4 140.0,490.0C141.5,488.6 148.7,483.0 150.0,482.0C151.3,481.0 156.9,477.4 158.0,477.0C159.1,476.6 162.9,476.4 164.0,476.4C165.1,476.4 170.7,477.4 172.0,477.6C173.3,477.8 180.5,479.1 182.0,479.6C183.5,480.1 190.5,483.2 192.0,484.0C193.5,484.8 200.5,488.9 202.0,490.0C203.5,491.1 210.7,497.8 212.0,499.0C213.3,500.2 218.8,504.9 220.0,506.0C221.2,507.1 226.9,512.4 228.0,513.0C229.1,513.6 233.1,514.5 234.0,514.6C234.9,514.7 238.9,514.2 240.0,514.0C241.1,513.8 246.7,512.7 248.0,512.0C249.3,511.3 256.5,505.9 258.0,505.0C259.5,504.1 266.5,500.7 268.0,500.0C269.5,499.3 276.5,496.6 278.0,496.0C279.5,495.4 286.6,492.6 288.0,492.0C289.4,491.4 294.8,488.8 296.0,488.0C297.2,487.2 302.6,483.4 304.0,482.0C305.4,480.6 312.5,472.2 314.0,470.0C315.5,467.8 322.6,454.9 324.0,453.0C325.4,451.1 330.8,445.1 332.0,444.0C333.2,442.9 338.8,439.1 340.0,438.0C341.2,436.9 346.6,431.4 348.0,430.0C349.4,428.6 356.5,421.6 358.0,420.0C359.5,418.4 366.8,410.1 368.0,409.0C369.2,407.9 373.1,405.4 374.0,405.0C374.9,404.6 379.1,403.9 380.0,404.0C380.9,404.1 385.1,405.4 386.0,406.0C386.9,406.6 390.9,411.2 392.0,412.0C393.1,412.8 398.8,415.2 400.0,416.0C401.2,416.8 406.9,421.2 408.0,422.0C409.1,422.8 414.1,426.6 415.0,427.0C415.9,427.4 419.0,427.2 420.0,427.0C421.0,426.8 426.6,424.7 428.0,424.0C429.4,423.3 436.5,418.9 438.0,418.0C439.5,417.1 446.6,413.0 448.0,412.4C449.4,411.8 454.9,410.3 456.0,410.0C457.1,409.7 461.1,408.7 462.0,408.0C462.9,407.3 467.1,402.4 468.0,401.0C468.9,399.6 473.1,391.7 474.0,390.0C474.9,388.3 479.1,379.6 480.0,378.0C480.9,376.4 485.1,370.1 486.0,369.0C486.9,367.9 491.1,364.8 492.0,364.0C492.9,363.2 497.1,358.8 498.0,358.0C498.9,357.2 503.1,353.6 504.0,353.0C504.9,352.4 509.1,350.5 510.0,350.0C510.9,349.5 515.0,346.6 516.0,346.0C517.0,345.4 523.0,342.1 524.0,341.6C525.0,341.1 529.1,339.6 530.0,339.0C530.9,338.4 534.8,333.9 536.0,333.0C537.2,332.1 544.5,327.9 546.0,327.0C547.5,326.1 554.5,321.9 556.0,321.0C557.5,320.1 564.5,316.1 566.0,315.0C567.5,313.9 574.4,307.8 576.0,306.0C577.6,304.2 586.5,292.2 588.0,290.4C589.5,288.6 594.8,283.0 596.0,281.6C597.2,280.2 602.8,273.1 604.0,271.6C605.2,270.1 610.8,263.1 612.0,261.8C613.2,260.5 618.8,254.9 620.0,253.8C621.2,252.7 626.8,247.6 628.0,246.6C629.2,245.6 634.8,240.7 636.0,240.0C637.2,239.3 642.6,237.3 644.0,237.0C645.4,236.7 652.5,236.5 654.0,236.4C655.5,236.3 662.5,235.6 664.0,235.6C665.5,235.6 672.5,236.8 674.0,237.0C675.5,237.2 683.0,238.1 684.0,238.0C685.0,237.9 686.3,236.8 687.0,236.0C687.7,235.2 691.9,229.2 693.0,228.0C694.1,226.8 700.6,221.2 702.0,220.0C703.4,218.8 710.6,212.8 712.0,212.0C713.4,211.2 718.6,209.5 720.0,209.0C721.4,208.5 728.7,206.2 730.0,205.6C731.3,205.0 736.1,201.9 737.0,201.0C737.9,200.1 741.2,194.4 742.0,193.0C742.8,191.6 746.6,184.6 748.0,182.0C749.4,179.4 758.6,160.8 760.0,158.0C761.4,155.2 765.1,146.2 766.0,144.0C766.9,141.8 771.1,130.0 772.0,128.0C772.9,126.0 777.1,118.3 778.0,117.0C778.9,115.7 783.0,111.7 784.0,111.0C785.0,110.3 790.5,108.4 792.0,108.0C793.5,107.6 802.4,106.3 804.0,106.0C805.6,105.7 812.5,104.3 814.0,104.0C815.5,103.7 822.7,102.0 824.0,102.4C825.3,102.9 830.0,108.8 831.0,110.0C832.0,111.2 837.0,116.7 838.0,118.0C839.0,119.3 843.0,126.6 844.0,128.0C845.0,129.4 851.0,135.5 852.0,137.0C853.0,138.5 857.1,146.4 858.0,148.0C858.9,149.6 862.6,155.6 864.0,158.0C865.4,160.4 874.5,177.4 876.0,180.0C877.5,182.6 882.8,190.2 884.0,192.0C885.2,193.8 891.0,202.3 892.0,204.0C893.0,205.7 897.1,213.7 898.0,215.0C898.9,216.3 903.0,221.2 904.0,222.0C905.0,222.8 911.2,224.7 912.0,225.0C912.8,225.3 914.2,226.8 915.0,226.4C915.8,226.0 920.7,221.2 922.0,220.0C923.3,218.8 930.5,211.5 932.0,210.0C933.5,208.5 940.5,201.7 942.0,200.0C943.5,198.3 950.6,189.2 952.0,187.0C953.4,184.8 958.5,172.8 960.0,170.0C961.5,167.2 970.5,152.6 972.0,150.0C973.5,147.4 978.8,138.1 980.0,136.0C981.2,133.9 986.8,124.0 988.0,122.0C989.2,120.0 994.8,111.7 996.0,110.0C997.2,108.3 1002.8,101.4 1004.0,100.0C1005.2,98.6 1010.8,92.0 1012.0,91.0C1013.2,90.0 1018.9,86.5 1020.0,86.0C1021.1,85.5 1026.1,84.9 1027.0,85.0C1027.9,85.1 1031.0,86.3 1032.0,87.0C1033.0,87.7 1038.8,92.9 1040.0,94.0C1041.2,95.1 1046.8,100.7 1048.0,102.0C1049.2,103.3 1054.8,109.7 1056.0,111.0C1057.2,112.3 1062.8,118.4 1064.0,120.0C1065.2,121.6 1070.8,130.3 1072.0,132.0C1073.2,133.7 1078.7,139.6 1080.0,142.0C1081.3,144.4 1088.8,161.3 1090.0,164.0C1091.2,166.7 1095.1,175.6 1096.0,178.0C1096.9,180.4 1101.0,193.3 1102.0,196.0C1103.0,198.7 1108.0,211.4 1109.0,214.0C1110.0,216.6 1115.0,228.1 1116.0,230.0C1117.0,231.9 1121.0,238.7 1122.0,240.0C1123.0,241.3 1128.7,246.9 1130.0,248.0C1131.3,249.1 1138.5,254.3 1139.6,255.0C1140.6,255.7 1143.7,256.9 1144.0,257.0" fill="none" stroke="#ff8a33" stroke-width="1.15" stroke-linejoin="round"/><line x1="1012.3" y1="59.4" x2="1141" y2="211.7" stroke="#637fd2" stroke-width="1.35" stroke-linecap="round"/><rect x="2.01" y="494.4" width="1" height="53.6" fill="#f23645"/><rect x="1.01" y="503.0" width="3" height="36.0" fill="#f23645"/><rect x="6.60" y="525.0" width="1" height="29.0" fill="#089981"/><rect x="5.60" y="534.4" width="3" height="5.2" fill="#089981"/><rect x="11.19" y="527.6" width="1" height="51.4" fill="#f23645"/><rect x="10.19" y="534.4" width="3" height="37.6" fill="#f23645"/><rect x="15.78" y="542.0" width="1" height="52.4" fill="#f23645"/><rect x="14.78" y="569.0" width="3" height="20.6" fill="#f23645"/><rect x="20.37" y="567.0" width="1" height="32.6" fill="#089981"/><rect x="19.37" y="582.4" width="3" height="6.6" fill="#089981"/><rect x="24.96" y="568.4" width="1" height="29.2" fill="#f23645"/><rect x="23.96" y="579.4" width="3" height="9.6" fill="#f23645"/><rect x="29.55" y="563.6" width="1" height="29.4" fill="#089981"/><rect x="28.55" y="585.9" width="3" height="1.0" fill="#089981"/><rect x="34.14" y="561.6" width="1" height="63.4" fill="#089981"/><rect x="33.14" y="571.4" width="3" height="14.6" fill="#089981"/><rect x="38.73" y="536.0" width="1" height="34.4" fill="#089981"/><rect x="37.73" y="551.0" width="3" height="15.0" fill="#089981"/><rect x="43.33" y="528.0" width="1" height="26.4" fill="#089981"/><rect x="42.33" y="531.0" width="3" height="20.0" fill="#089981"/><rect x="47.92" y="526.0" width="1" height="21.0" fill="#f23645"/><rect x="46.92" y="532.4" width="3" height="10.6" fill="#f23645"/><rect x="52.51" y="537.4" width="1" height="50.6" fill="#f23645"/><rect x="51.51" y="541.0" width="3" height="19.6" fill="#f23645"/><rect x="57.10" y="545.0" width="1" height="20.4" fill="#089981"/><rect x="56.10" y="551.0" width="3" height="8.4" fill="#089981"/><rect x="61.69" y="540.0" width="1" height="14.0" fill="#089981"/><rect x="60.69" y="542.4" width="3" height="5.6" fill="#089981"/><rect x="66.28" y="541.0" width="1" height="47.0" fill="#f23645"/><rect x="65.28" y="542.0" width="3" height="42.6" fill="#f23645"/><rect x="70.87" y="544.0" width="1" height="47.0" fill="#089981"/><rect x="69.87" y="572.0" width="3" height="12.0" fill="#089981"/><rect x="75.46" y="534.4" width="1" height="42.6" fill="#089981"/><rect x="74.46" y="535.0" width="3" height="37.0" fill="#089981"/><rect x="80.05" y="510.6" width="1" height="27.4" fill="#089981"/><rect x="79.05" y="518.0" width="3" height="17.0" fill="#089981"/><rect x="84.64" y="505.0" width="1" height="14.6" fill="#089981"/><rect x="83.64" y="508.0" width="3" height="8.6" fill="#089981"/><rect x="89.23" y="498.4" width="1" height="11.6" fill="#089981"/><rect x="88.23" y="506.0" width="3" height="3.6" fill="#089981"/><rect x="93.82" y="490.0" width="1" height="20.6" fill="#089981"/><rect x="92.82" y="492.0" width="3" height="15.0" fill="#089981"/><rect x="98.41" y="463.0" width="1" height="36.5" fill="#089981"/><rect x="97.41" y="464.0" width="3" height="30.0" fill="#089981"/><rect x="103.00" y="454.0" width="1" height="13.0" fill="#089981"/><rect x="102.00" y="460.4" width="3" height="5.2" fill="#089981"/><rect x="107.59" y="447.0" width="1" height="19.6" fill="#f23645"/><rect x="106.59" y="461.6" width="3" height="3.4" fill="#f23645"/><rect x="112.18" y="450.0" width="1" height="24.0" fill="#089981"/><rect x="111.18" y="454.0" width="3" height="10.0" fill="#089981"/><rect x="116.78" y="425.0" width="1" height="30.6" fill="#089981"/><rect x="115.78" y="428.0" width="3" height="27.6" fill="#089981"/><rect x="121.37" y="418.6" width="1" height="15.0" fill="#f23645"/><rect x="120.37" y="429.6" width="3" height="4.0" fill="#f23645"/><rect x="125.96" y="421.6" width="1" height="12.8" fill="#089981"/><rect x="124.96" y="422.4" width="3" height="9.6" fill="#089981"/><rect x="130.55" y="415.6" width="1" height="21.0" fill="#f23645"/><rect x="129.55" y="419.0" width="3" height="17.0" fill="#f23645"/><rect x="135.14" y="428.0" width="1" height="9.0" fill="#089981"/><rect x="134.14" y="430.0" width="3" height="6.0" fill="#089981"/><rect x="139.73" y="428.0" width="1" height="27.0" fill="#f23645"/><rect x="138.73" y="430.0" width="3" height="22.4" fill="#f23645"/><rect x="144.32" y="439.0" width="1" height="56.0" fill="#f23645"/><rect x="143.32" y="450.0" width="3" height="44.0" fill="#f23645"/><rect x="148.91" y="480.0" width="1" height="15.0" fill="#089981"/><rect x="147.91" y="491.5" width="3" height="1.0" fill="#089981"/><rect x="153.50" y="485.6" width="1" height="9.4" fill="#089981"/><rect x="152.50" y="486.4" width="3" height="4.6" fill="#089981"/><rect x="158.09" y="485.0" width="1" height="31.6" fill="#f23645"/><rect x="157.09" y="485.6" width="3" height="22.4" fill="#f23645"/><rect x="162.68" y="507.6" width="1" height="49.8" fill="#f23645"/><rect x="161.68" y="507.6" width="3" height="49.8" fill="#f23645"/><rect x="167.27" y="553.0" width="1" height="15.4" fill="#f23645"/><rect x="166.27" y="556.0" width="3" height="6.4" fill="#f23645"/><rect x="171.86" y="513.6" width="1" height="52.0" fill="#089981"/><rect x="170.86" y="515.6" width="3" height="46.8" fill="#089981"/><rect x="176.45" y="508.0" width="1" height="43.0" fill="#f23645"/><rect x="175.45" y="513.6" width="3" height="14.4" fill="#f23645"/><rect x="181.04" y="510.0" width="1" height="34.0" fill="#089981"/><rect x="180.04" y="515.6" width="3" height="11.4" fill="#089981"/><rect x="185.63" y="506.0" width="1" height="22.0" fill="#089981"/><rect x="184.63" y="509.6" width="3" height="7.0" fill="#089981"/><rect x="190.22" y="494.0" width="1" height="20.4" fill="#089981"/><rect x="189.22" y="503.6" width="3" height="8.0" fill="#089981"/><rect x="194.82" y="488.0" width="1" height="33.6" fill="#f23645"/><rect x="193.82" y="503.0" width="3" height="7.6" fill="#f23645"/><rect x="199.41" y="504.0" width="1" height="16.4" fill="#089981"/><rect x="198.41" y="507.0" width="3" height="4.6" fill="#089981"/><rect x="204.00" y="503.6" width="1" height="33.4" fill="#f23645"/><rect x="203.00" y="506.0" width="3" height="10.6" fill="#f23645"/><rect x="208.59" y="484.0" width="1" height="39.0" fill="#f23645"/><rect x="207.59" y="515.6" width="3" height="2.4" fill="#f23645"/><rect x="213.18" y="515.0" width="1" height="24.0" fill="#f23645"/><rect x="212.18" y="518.6" width="3" height="5.4" fill="#f23645"/><rect x="217.77" y="521.0" width="1" height="27.6" fill="#f23645"/><rect x="216.77" y="525.6" width="3" height="3.4" fill="#f23645"/><rect x="222.36" y="507.0" width="1" height="31.0" fill="#089981"/><rect x="221.36" y="509.0" width="3" height="19.0" fill="#089981"/><rect x="226.95" y="498.8" width="1" height="16.2" fill="#089981"/><rect x="225.95" y="507.0" width="3" height="3.0" fill="#089981"/><rect x="231.54" y="505.6" width="1" height="6.0" fill="#f23645"/><rect x="230.54" y="505.6" width="3" height="5.6" fill="#f23645"/><rect x="236.13" y="477.0" width="1" height="35.4" fill="#089981"/><rect x="235.13" y="485.0" width="3" height="25.4" fill="#089981"/><rect x="240.72" y="476.0" width="1" height="15.0" fill="#f23645"/><rect x="239.72" y="483.0" width="3" height="1.0" fill="#f23645"/><rect x="245.31" y="452.0" width="1" height="39.0" fill="#089981"/><rect x="244.31" y="462.4" width="3" height="19.2" fill="#089981"/><rect x="249.90" y="456.0" width="1" height="39.0" fill="#f23645"/><rect x="248.90" y="461.0" width="3" height="28.0" fill="#f23645"/><rect x="254.49" y="481.0" width="1" height="20.6" fill="#089981"/><rect x="253.49" y="488.0" width="3" height="3.0" fill="#089981"/><rect x="259.08" y="476.4" width="1" height="18.0" fill="#089981"/><rect x="258.08" y="485.0" width="3" height="4.0" fill="#089981"/><rect x="263.67" y="462.6" width="1" height="39.4" fill="#089981"/><rect x="262.67" y="484.0" width="3" height="2.6" fill="#089981"/><rect x="268.26" y="462.6" width="1" height="29.8" fill="#f23645"/><rect x="267.26" y="484.4" width="3" height="1.6" fill="#f23645"/><rect x="272.86" y="470.0" width="1" height="25.6" fill="#089981"/><rect x="271.86" y="473.0" width="3" height="12.0" fill="#089981"/><rect x="277.45" y="465.0" width="1" height="13.0" fill="#f23645"/><rect x="276.45" y="471.6" width="3" height="3.4" fill="#f23645"/><rect x="282.04" y="462.6" width="1" height="11.4" fill="#089981"/><rect x="281.04" y="471.0" width="3" height="2.6" fill="#089981"/><rect x="286.63" y="466.4" width="1" height="17.6" fill="#f23645"/><rect x="285.63" y="470.6" width="3" height="3.0" fill="#f23645"/><rect x="291.22" y="445.0" width="1" height="30.6" fill="#089981"/><rect x="290.22" y="469.6" width="3" height="4.8" fill="#089981"/><rect x="295.81" y="459.0" width="1" height="27.0" fill="#f23645"/><rect x="294.81" y="471.0" width="3" height="5.4" fill="#f23645"/><rect x="300.40" y="441.0" width="1" height="37.4" fill="#089981"/><rect x="299.40" y="444.0" width="3" height="32.4" fill="#089981"/><rect x="304.99" y="430.4" width="1" height="19.6" fill="#089981"/><rect x="303.99" y="437.0" width="3" height="8.0" fill="#089981"/><rect x="309.58" y="403.0" width="1" height="38.6" fill="#089981"/><rect x="308.58" y="420.0" width="3" height="17.0" fill="#089981"/><rect x="314.17" y="395.0" width="1" height="23.0" fill="#089981"/><rect x="313.17" y="403.0" width="3" height="15.0" fill="#089981"/><rect x="318.76" y="347.0" width="1" height="61.0" fill="#089981"/><rect x="317.76" y="350.0" width="3" height="52.4" fill="#089981"/><rect x="323.35" y="329.0" width="1" height="31.0" fill="#089981"/><rect x="322.35" y="329.6" width="3" height="20.0" fill="#089981"/><rect x="327.94" y="318.4" width="1" height="57.6" fill="#f23645"/><rect x="326.94" y="328.4" width="3" height="41.2" fill="#f23645"/><rect x="332.53" y="367.6" width="1" height="39.4" fill="#f23645"/><rect x="331.53" y="370.0" width="3" height="32.0" fill="#f23645"/><rect x="337.12" y="386.0" width="1" height="18.4" fill="#089981"/><rect x="336.12" y="391.0" width="3" height="7.4" fill="#089981"/><rect x="341.71" y="382.0" width="1" height="17.0" fill="#f23645"/><rect x="340.71" y="389.0" width="3" height="8.6" fill="#f23645"/><rect x="346.31" y="398.0" width="1" height="37.6" fill="#f23645"/><rect x="345.31" y="400.6" width="3" height="25.0" fill="#f23645"/><rect x="350.90" y="389.0" width="1" height="45.4" fill="#089981"/><rect x="349.90" y="422.0" width="3" height="4.4" fill="#089981"/><rect x="355.49" y="365.4" width="1" height="56.6" fill="#089981"/><rect x="354.49" y="376.0" width="3" height="44.4" fill="#089981"/><rect x="360.08" y="360.0" width="1" height="32.4" fill="#f23645"/><rect x="359.08" y="372.4" width="3" height="9.2" fill="#f23645"/><rect x="364.67" y="356.6" width="1" height="32.0" fill="#f23645"/><rect x="363.67" y="379.0" width="3" height="2.0" fill="#f23645"/><rect x="369.26" y="331.0" width="1" height="50.0" fill="#089981"/><rect x="368.26" y="358.0" width="3" height="22.6" fill="#089981"/><rect x="373.85" y="340.0" width="1" height="74.0" fill="#f23645"/><rect x="372.85" y="354.6" width="3" height="50.4" fill="#f23645"/><rect x="378.44" y="404.0" width="1" height="66.4" fill="#f23645"/><rect x="377.44" y="404.4" width="3" height="48.6" fill="#f23645"/><rect x="383.03" y="453.0" width="1" height="87.6" fill="#f23645"/><rect x="382.03" y="459.0" width="3" height="49.0" fill="#f23645"/><rect x="387.62" y="462.4" width="1" height="61.6" fill="#089981"/><rect x="386.62" y="504.0" width="3" height="1.0" fill="#089981"/><rect x="392.21" y="461.0" width="1" height="63.0" fill="#f23645"/><rect x="391.21" y="502.0" width="3" height="21.0" fill="#f23645"/><rect x="396.80" y="457.6" width="1" height="70.4" fill="#089981"/><rect x="395.80" y="459.6" width="3" height="58.0" fill="#089981"/><rect x="401.39" y="450.0" width="1" height="30.0" fill="#f23645"/><rect x="400.39" y="460.6" width="3" height="3.0" fill="#f23645"/><rect x="405.98" y="451.0" width="1" height="27.0" fill="#f23645"/><rect x="404.98" y="457.6" width="3" height="12.4" fill="#f23645"/><rect x="410.57" y="437.0" width="1" height="42.0" fill="#089981"/><rect x="409.57" y="440.6" width="3" height="27.4" fill="#089981"/><rect x="415.16" y="416.4" width="1" height="29.2" fill="#089981"/><rect x="414.16" y="418.0" width="3" height="21.6" fill="#089981"/><rect x="419.75" y="377.0" width="1" height="45.0" fill="#089981"/><rect x="418.75" y="379.6" width="3" height="40.8" fill="#089981"/><rect x="424.35" y="369.6" width="1" height="22.0" fill="#089981"/><rect x="423.35" y="372.4" width="3" height="8.0" fill="#089981"/><rect x="428.94" y="355.0" width="1" height="20.6" fill="#089981"/><rect x="427.94" y="358.4" width="3" height="13.6" fill="#089981"/><rect x="433.53" y="351.0" width="1" height="15.0" fill="#f23645"/><rect x="432.53" y="356.0" width="3" height="4.6" fill="#f23645"/><rect x="438.12" y="350.0" width="1" height="17.0" fill="#089981"/><rect x="437.12" y="356.0" width="3" height="4.0" fill="#089981"/><rect x="442.71" y="346.0" width="1" height="33.0" fill="#f23645"/><rect x="441.71" y="356.0" width="3" height="12.0" fill="#f23645"/><rect x="447.30" y="333.6" width="1" height="33.4" fill="#089981"/><rect x="446.30" y="336.0" width="3" height="31.0" fill="#089981"/><rect x="451.89" y="317.0" width="1" height="20.6" fill="#089981"/><rect x="450.89" y="331.6" width="3" height="3.4" fill="#089981"/><rect x="456.48" y="326.0" width="1" height="14.0" fill="#089981"/><rect x="455.48" y="329.0" width="3" height="4.0" fill="#089981"/><rect x="461.07" y="321.0" width="1" height="39.0" fill="#f23645"/><rect x="460.07" y="328.0" width="3" height="9.0" fill="#f23645"/><rect x="465.66" y="304.6" width="1" height="39.0" fill="#089981"/><rect x="464.66" y="319.6" width="3" height="17.4" fill="#089981"/><rect x="470.25" y="307.0" width="1" height="31.4" fill="#089981"/><rect x="469.25" y="308.4" width="3" height="13.6" fill="#089981"/><rect x="474.84" y="307.0" width="1" height="10.6" fill="#f23645"/><rect x="473.84" y="307.6" width="3" height="1.4" fill="#f23645"/><rect x="479.43" y="308.4" width="1" height="56.0" fill="#f23645"/><rect x="478.43" y="309.0" width="3" height="44.6" fill="#f23645"/><rect x="484.02" y="335.0" width="1" height="30.6" fill="#089981"/><rect x="483.02" y="352.0" width="3" height="3.0" fill="#089981"/><rect x="488.61" y="342.0" width="1" height="42.0" fill="#f23645"/><rect x="487.61" y="352.0" width="3" height="13.6" fill="#f23645"/><rect x="493.20" y="348.0" width="1" height="59.0" fill="#f23645"/><rect x="492.20" y="363.0" width="3" height="42.6" fill="#f23645"/><rect x="497.79" y="348.0" width="1" height="52.4" fill="#089981"/><rect x="496.79" y="360.0" width="3" height="40.4" fill="#089981"/><rect x="502.39" y="354.4" width="1" height="37.2" fill="#f23645"/><rect x="501.39" y="359.6" width="3" height="8.8" fill="#f23645"/><rect x="506.98" y="355.6" width="1" height="66.4" fill="#089981"/><rect x="505.98" y="360.0" width="3" height="9.0" fill="#089981"/><rect x="511.57" y="340.0" width="1" height="33.0" fill="#089981"/><rect x="510.57" y="342.0" width="3" height="19.0" fill="#089981"/><rect x="516.16" y="309.6" width="1" height="32.4" fill="#089981"/><rect x="515.16" y="319.6" width="3" height="22.4" fill="#089981"/><rect x="520.75" y="295.0" width="1" height="28.0" fill="#089981"/><rect x="519.75" y="306.0" width="3" height="16.0" fill="#089981"/><rect x="525.34" y="289.0" width="1" height="27.4" fill="#089981"/><rect x="524.34" y="304.4" width="3" height="1.2" fill="#089981"/><rect x="529.93" y="277.0" width="1" height="41.4" fill="#f23645"/><rect x="528.93" y="304.0" width="3" height="6.4" fill="#f23645"/><rect x="534.52" y="263.6" width="1" height="45.4" fill="#089981"/><rect x="533.52" y="272.4" width="3" height="35.6" fill="#089981"/><rect x="539.11" y="267.0" width="1" height="22.0" fill="#f23645"/><rect x="538.11" y="272.0" width="3" height="3.6" fill="#f23645"/><rect x="543.70" y="264.0" width="1" height="16.0" fill="#089981"/><rect x="542.70" y="268.4" width="3" height="2.6" fill="#089981"/><rect x="548.29" y="256.0" width="1" height="17.0" fill="#089981"/><rect x="547.29" y="262.4" width="3" height="7.2" fill="#089981"/><rect x="552.88" y="254.0" width="1" height="34.0" fill="#f23645"/><rect x="551.88" y="262.4" width="3" height="22.6" fill="#f23645"/><rect x="557.47" y="258.4" width="1" height="26.6" fill="#089981"/><rect x="556.47" y="262.4" width="3" height="22.0" fill="#089981"/><rect x="562.06" y="230.0" width="1" height="37.6" fill="#089981"/><rect x="561.06" y="257.6" width="3" height="7.4" fill="#089981"/><rect x="566.65" y="250.4" width="1" height="33.6" fill="#f23645"/><rect x="565.65" y="256.0" width="3" height="2.4" fill="#f23645"/><rect x="571.24" y="252.0" width="1" height="29.6" fill="#f23645"/><rect x="570.24" y="255.6" width="3" height="12.8" fill="#f23645"/><rect x="575.84" y="258.0" width="1" height="21.0" fill="#089981"/><rect x="574.84" y="260.6" width="3" height="6.4" fill="#089981"/><rect x="580.43" y="257.0" width="1" height="32.0" fill="#f23645"/><rect x="579.43" y="258.4" width="3" height="19.6" fill="#f23645"/><rect x="585.02" y="251.0" width="1" height="29.6" fill="#089981"/><rect x="584.02" y="253.6" width="3" height="25.4" fill="#089981"/><rect x="589.61" y="247.0" width="1" height="42.0" fill="#f23645"/><rect x="588.61" y="249.6" width="3" height="30.4" fill="#f23645"/><rect x="594.20" y="267.0" width="1" height="24.0" fill="#089981"/><rect x="593.20" y="271.6" width="3" height="8.0" fill="#089981"/><rect x="598.79" y="234.0" width="1" height="45.0" fill="#089981"/><rect x="597.79" y="239.0" width="3" height="32.0" fill="#089981"/><rect x="603.38" y="235.0" width="1" height="19.4" fill="#f23645"/><rect x="602.38" y="239.0" width="3" height="3.4" fill="#f23645"/><rect x="607.97" y="211.0" width="1" height="36.6" fill="#089981"/><rect x="606.97" y="217.0" width="3" height="24.6" fill="#089981"/><rect x="612.56" y="191.6" width="1" height="30.4" fill="#089981"/><rect x="611.56" y="192.0" width="3" height="22.4" fill="#089981"/><rect x="617.15" y="190.0" width="1" height="35.0" fill="#f23645"/><rect x="616.15" y="193.0" width="3" height="30.6" fill="#f23645"/><rect x="621.74" y="195.0" width="1" height="32.0" fill="#089981"/><rect x="620.74" y="198.0" width="3" height="23.0" fill="#089981"/><rect x="626.33" y="182.0" width="1" height="21.6" fill="#089981"/><rect x="625.33" y="185.6" width="3" height="12.4" fill="#089981"/><rect x="630.92" y="180.0" width="1" height="22.0" fill="#089981"/><rect x="629.92" y="183.0" width="3" height="4.0" fill="#089981"/><rect x="635.51" y="179.0" width="1" height="34.6" fill="#f23645"/><rect x="634.51" y="180.6" width="3" height="28.0" fill="#f23645"/><rect x="640.10" y="200.0" width="1" height="24.4" fill="#f23645"/><rect x="639.10" y="205.6" width="3" height="18.0" fill="#f23645"/><rect x="644.69" y="217.0" width="1" height="37.4" fill="#f23645"/><rect x="643.69" y="217.6" width="3" height="26.8" fill="#f23645"/><rect x="649.28" y="237.0" width="1" height="25.0" fill="#f23645"/><rect x="648.28" y="243.0" width="3" height="5.4" fill="#f23645"/><rect x="653.88" y="233.6" width="1" height="40.8" fill="#f23645"/><rect x="652.88" y="246.0" width="3" height="26.0" fill="#f23645"/><rect x="658.47" y="241.0" width="1" height="20.6" fill="#089981"/><rect x="657.47" y="246.0" width="3" height="14.0" fill="#089981"/><rect x="663.06" y="240.4" width="1" height="23.6" fill="#f23645"/><rect x="662.06" y="245.0" width="3" height="10.6" fill="#f23645"/><rect x="667.65" y="243.6" width="1" height="25.4" fill="#f23645"/><rect x="666.65" y="253.0" width="3" height="13.0" fill="#f23645"/><rect x="672.24" y="264.0" width="1" height="34.0" fill="#f23645"/><rect x="671.24" y="266.0" width="3" height="26.0" fill="#f23645"/><rect x="676.83" y="253.0" width="1" height="43.0" fill="#089981"/><rect x="675.83" y="274.4" width="3" height="16.6" fill="#089981"/><rect x="681.42" y="267.0" width="1" height="35.4" fill="#f23645"/><rect x="680.42" y="275.0" width="3" height="14.0" fill="#f23645"/><rect x="686.01" y="253.0" width="1" height="39.4" fill="#089981"/><rect x="685.01" y="253.0" width="3" height="35.0" fill="#089981"/><rect x="690.60" y="142.0" width="1" height="114.0" fill="#089981"/><rect x="689.60" y="142.0" width="3" height="113.0" fill="#089981"/><rect x="695.19" y="139.0" width="1" height="16.0" fill="#f23645"/><rect x="694.19" y="145.0" width="3" height="1.0" fill="#f23645"/><rect x="699.78" y="118.0" width="1" height="33.0" fill="#089981"/><rect x="698.78" y="131.0" width="3" height="15.0" fill="#089981"/><rect x="704.37" y="93.0" width="1" height="35.0" fill="#089981"/><rect x="703.37" y="109.0" width="3" height="18.0" fill="#089981"/><rect x="708.96" y="99.0" width="1" height="37.0" fill="#f23645"/><rect x="707.96" y="109.0" width="3" height="25.0" fill="#f23645"/><rect x="713.55" y="119.0" width="1" height="28.0" fill="#089981"/><rect x="712.55" y="129.0" width="3" height="6.0" fill="#089981"/><rect x="718.14" y="120.4" width="1" height="32.0" fill="#f23645"/><rect x="717.14" y="130.0" width="3" height="17.0" fill="#f23645"/><rect x="722.73" y="147.0" width="1" height="31.0" fill="#f23645"/><rect x="721.73" y="147.0" width="3" height="25.0" fill="#f23645"/><rect x="727.32" y="166.0" width="1" height="18.0" fill="#f23645"/><rect x="726.32" y="170.0" width="3" height="6.0" fill="#f23645"/><rect x="731.92" y="167.0" width="1" height="46.6" fill="#f23645"/><rect x="730.92" y="175.6" width="3" height="9.4" fill="#f23645"/><rect x="736.51" y="169.0" width="1" height="30.0" fill="#089981"/><rect x="735.51" y="170.0" width="3" height="14.0" fill="#089981"/><rect x="741.10" y="127.0" width="1" height="56.0" fill="#089981"/><rect x="740.10" y="139.0" width="3" height="32.0" fill="#089981"/><rect x="745.69" y="105.0" width="1" height="46.6" fill="#089981"/><rect x="744.69" y="105.0" width="3" height="36.6" fill="#089981"/><rect x="750.28" y="70.0" width="1" height="27.6" fill="#089981"/><rect x="749.28" y="73.0" width="3" height="24.6" fill="#089981"/><rect x="754.87" y="64.0" width="1" height="33.6" fill="#089981"/><rect x="753.87" y="66.0" width="3" height="10.0" fill="#089981"/><rect x="759.46" y="56.0" width="1" height="23.0" fill="#f23645"/><rect x="758.46" y="66.4" width="3" height="10.0" fill="#f23645"/><rect x="764.05" y="66.0" width="1" height="10.4" fill="#089981"/><rect x="763.05" y="68.0" width="3" height="7.0" fill="#089981"/><rect x="768.64" y="52.0" width="1" height="22.4" fill="#089981"/><rect x="767.64" y="60.0" width="3" height="9.0" fill="#089981"/><rect x="773.23" y="54.0" width="1" height="23.0" fill="#f23645"/><rect x="772.23" y="60.4" width="3" height="12.6" fill="#f23645"/><rect x="777.82" y="64.0" width="1" height="23.0" fill="#f23645"/><rect x="776.82" y="71.0" width="3" height="2.0" fill="#f23645"/><rect x="782.41" y="51.0" width="1" height="22.0" fill="#089981"/><rect x="781.41" y="55.6" width="3" height="15.4" fill="#089981"/><rect x="787.00" y="52.0" width="1" height="25.0" fill="#f23645"/><rect x="786.00" y="57.0" width="3" height="17.0" fill="#f23645"/><rect x="791.59" y="64.0" width="1" height="23.0" fill="#f23645"/><rect x="790.59" y="73.0" width="3" height="13.0" fill="#f23645"/><rect x="796.18" y="76.4" width="1" height="26.0" fill="#f23645"/><rect x="795.18" y="84.0" width="3" height="18.4" fill="#f23645"/><rect x="800.77" y="95.0" width="1" height="21.4" fill="#f23645"/><rect x="799.77" y="101.0" width="3" height="8.0" fill="#f23645"/><rect x="805.37" y="102.4" width="1" height="20.0" fill="#f23645"/><rect x="804.37" y="108.0" width="3" height="14.0" fill="#f23645"/><rect x="809.96" y="115.0" width="1" height="24.0" fill="#f23645"/><rect x="808.96" y="121.0" width="3" height="16.0" fill="#f23645"/><rect x="814.55" y="127.6" width="1" height="20.0" fill="#f23645"/><rect x="813.55" y="138.0" width="3" height="7.6" fill="#f23645"/><rect x="819.14" y="131.6" width="1" height="20.4" fill="#f23645"/><rect x="818.14" y="143.0" width="3" height="8.0" fill="#f23645"/><rect x="823.73" y="149.0" width="1" height="29.0" fill="#f23645"/><rect x="822.73" y="151.0" width="3" height="21.0" fill="#f23645"/><rect x="828.32" y="153.0" width="1" height="114.6" fill="#f23645"/><rect x="827.32" y="168.5" width="3" height="87.5" fill="#f23645"/><rect x="832.91" y="219.6" width="1" height="34.0" fill="#f23645"/><rect x="831.91" y="248.0" width="3" height="1.6" fill="#f23645"/><rect x="837.50" y="187.0" width="1" height="85.4" fill="#089981"/><rect x="836.50" y="215.0" width="3" height="33.4" fill="#089981"/><rect x="842.09" y="202.0" width="1" height="39.6" fill="#f23645"/><rect x="841.09" y="210.0" width="3" height="3.6" fill="#f23645"/><rect x="846.68" y="187.0" width="1" height="31.4" fill="#089981"/><rect x="845.68" y="189.0" width="3" height="22.6" fill="#089981"/><rect x="851.27" y="180.0" width="1" height="23.0" fill="#089981"/><rect x="850.27" y="183.6" width="3" height="5.4" fill="#089981"/><rect x="855.86" y="181.0" width="1" height="46.0" fill="#f23645"/><rect x="854.86" y="183.6" width="3" height="24.0" fill="#f23645"/><rect x="860.45" y="201.0" width="1" height="58.6" fill="#f23645"/><rect x="859.45" y="204.0" width="3" height="31.6" fill="#f23645"/><rect x="865.04" y="220.4" width="1" height="27.2" fill="#f23645"/><rect x="864.04" y="234.4" width="3" height="3.2" fill="#f23645"/><rect x="869.63" y="209.0" width="1" height="56.6" fill="#f23645"/><rect x="868.63" y="231.0" width="3" height="16.6" fill="#f23645"/><rect x="874.22" y="219.6" width="1" height="30.8" fill="#089981"/><rect x="873.22" y="225.0" width="3" height="23.0" fill="#089981"/><rect x="878.81" y="193.0" width="1" height="37.0" fill="#f23645"/><rect x="877.81" y="220.0" width="3" height="1.6" fill="#f23645"/><rect x="883.41" y="207.6" width="1" height="40.0" fill="#f23645"/><rect x="882.41" y="220.4" width="3" height="19.2" fill="#f23645"/><rect x="888.00" y="226.4" width="1" height="25.2" fill="#089981"/><rect x="887.00" y="230.0" width="3" height="7.6" fill="#089981"/><rect x="892.59" y="228.0" width="1" height="13.6" fill="#f23645"/><rect x="891.59" y="231.0" width="3" height="5.0" fill="#f23645"/><rect x="897.18" y="227.0" width="1" height="60.0" fill="#f23645"/><rect x="896.18" y="236.0" width="3" height="43.0" fill="#f23645"/><rect x="901.77" y="251.6" width="1" height="42.8" fill="#089981"/><rect x="900.77" y="252.0" width="3" height="27.0" fill="#089981"/><rect x="906.36" y="232.4" width="1" height="33.2" fill="#089981"/><rect x="905.36" y="233.0" width="3" height="17.4" fill="#089981"/><rect x="910.95" y="177.0" width="1" height="59.0" fill="#089981"/><rect x="909.95" y="183.0" width="3" height="51.0" fill="#089981"/><rect x="915.54" y="179.6" width="1" height="20.0" fill="#f23645"/><rect x="914.54" y="185.0" width="3" height="12.0" fill="#f23645"/><rect x="920.13" y="163.0" width="1" height="32.6" fill="#089981"/><rect x="919.13" y="169.6" width="3" height="25.4" fill="#089981"/><rect x="924.72" y="144.0" width="1" height="27.6" fill="#089981"/><rect x="923.72" y="156.0" width="3" height="12.0" fill="#089981"/><rect x="929.31" y="124.0" width="1" height="57.0" fill="#089981"/><rect x="928.31" y="126.0" width="3" height="26.0" fill="#089981"/><rect x="933.90" y="114.0" width="1" height="16.0" fill="#089981"/><rect x="932.90" y="119.6" width="3" height="9.4" fill="#089981"/><rect x="938.49" y="88.0" width="1" height="33.0" fill="#089981"/><rect x="937.49" y="89.6" width="3" height="29.4" fill="#089981"/><rect x="943.08" y="88.0" width="1" height="18.4" fill="#f23645"/><rect x="942.08" y="91.0" width="3" height="11.4" fill="#f23645"/><rect x="947.67" y="76.0" width="1" height="65.6" fill="#089981"/><rect x="946.67" y="78.0" width="3" height="33.6" fill="#089981"/><rect x="952.26" y="58.0" width="1" height="29.6" fill="#089981"/><rect x="951.26" y="68.4" width="3" height="10.6" fill="#089981"/><rect x="956.85" y="59.0" width="1" height="28.0" fill="#f23645"/><rect x="955.85" y="69.0" width="3" height="4.0" fill="#f23645"/><rect x="961.45" y="54.4" width="1" height="29.6" fill="#089981"/><rect x="960.45" y="64.0" width="3" height="11.0" fill="#089981"/><rect x="966.04" y="52.0" width="1" height="41.6" fill="#f23645"/><rect x="965.04" y="62.0" width="3" height="30.0" fill="#f23645"/><rect x="970.63" y="80.0" width="1" height="62.4" fill="#089981"/><rect x="969.63" y="86.0" width="3" height="28.4" fill="#089981"/><rect x="975.22" y="80.0" width="1" height="33.6" fill="#f23645"/><rect x="974.22" y="81.6" width="3" height="10.0" fill="#f23645"/><rect x="979.81" y="61.6" width="1" height="42.8" fill="#089981"/><rect x="978.81" y="62.6" width="3" height="29.8" fill="#089981"/><rect x="984.40" y="53.0" width="1" height="36.6" fill="#f23645"/><rect x="983.40" y="64.0" width="3" height="16.4" fill="#f23645"/><rect x="988.99" y="67.6" width="1" height="42.4" fill="#f23645"/><rect x="987.99" y="80.4" width="3" height="28.6" fill="#f23645"/><rect x="993.58" y="84.0" width="1" height="35.0" fill="#089981"/><rect x="992.58" y="95.0" width="3" height="24.0" fill="#089981"/><rect x="998.17" y="82.0" width="1" height="25.0" fill="#089981"/><rect x="997.17" y="85.0" width="3" height="12.6" fill="#089981"/><rect x="1002.76" y="83.6" width="1" height="39.4" fill="#f23645"/><rect x="1001.76" y="85.6" width="3" height="14.8" fill="#f23645"/><rect x="1007.35" y="72.4" width="1" height="38.0" fill="#089981"/><rect x="1006.35" y="76.4" width="3" height="24.0" fill="#089981"/><rect x="1011.94" y="74.4" width="1" height="20.0" fill="#f23645"/><rect x="1010.94" y="78.0" width="3" height="15.0" fill="#f23645"/><rect x="1016.53" y="80.0" width="1" height="11.0" fill="#089981"/><rect x="1015.53" y="81.0" width="3" height="9.4" fill="#089981"/><rect x="1021.12" y="81.6" width="1" height="24.8" fill="#f23645"/><rect x="1020.12" y="83.0" width="3" height="6.6" fill="#f23645"/><rect x="1025.71" y="83.0" width="1" height="23.4" fill="#089981"/><rect x="1024.71" y="86.4" width="3" height="3.2" fill="#089981"/><rect x="1030.30" y="85.0" width="1" height="48.0" fill="#f23645"/><rect x="1029.30" y="86.0" width="3" height="32.0" fill="#f23645"/><rect x="1034.89" y="111.6" width="1" height="66.8" fill="#f23645"/><rect x="1033.89" y="117.6" width="3" height="56.4" fill="#f23645"/><rect x="1039.49" y="147.0" width="1" height="29.0" fill="#089981"/><rect x="1038.49" y="165.6" width="3" height="1.4" fill="#089981"/><rect x="1044.08" y="146.4" width="1" height="36.6" fill="#089981"/><rect x="1043.08" y="153.6" width="3" height="12.4" fill="#089981"/><rect x="1048.67" y="139.0" width="1" height="44.0" fill="#f23645"/><rect x="1047.67" y="152.4" width="3" height="19.2" fill="#f23645"/><rect x="1053.26" y="137.0" width="1" height="49.0" fill="#f23645"/><rect x="1052.26" y="171.6" width="3" height="13.4" fill="#f23645"/><rect x="1057.85" y="139.0" width="1" height="58.0" fill="#089981"/><rect x="1056.85" y="146.0" width="3" height="37.0" fill="#089981"/><rect x="1062.44" y="125.6" width="1" height="82.8" fill="#f23645"/><rect x="1061.44" y="143.0" width="3" height="41.0" fill="#f23645"/><rect x="1067.03" y="181.0" width="1" height="68.6" fill="#f23645"/><rect x="1066.03" y="182.4" width="3" height="37.6" fill="#f23645"/><rect x="1071.62" y="193.0" width="1" height="52.6" fill="#089981"/><rect x="1070.62" y="203.6" width="3" height="15.4" fill="#089981"/><rect x="1076.21" y="200.0" width="1" height="48.4" fill="#f23645"/><rect x="1075.21" y="202.4" width="3" height="30.6" fill="#f23645"/><rect x="1080.80" y="211.0" width="1" height="53.4" fill="#089981"/><rect x="1079.80" y="220.0" width="3" height="13.0" fill="#089981"/><rect x="1085.39" y="228.4" width="1" height="76.0" fill="#f23645"/><rect x="1084.39" y="239.0" width="3" height="42.0" fill="#f23645"/><rect x="1089.98" y="270.0" width="1" height="66.4" fill="#f23645"/><rect x="1088.98" y="282.0" width="3" height="37.6" fill="#f23645"/><rect x="1094.57" y="277.0" width="1" height="71.4" fill="#f23645"/><rect x="1093.57" y="311.6" width="3" height="14.4" fill="#f23645"/><rect x="1099.16" y="317.0" width="1" height="57.0" fill="#f23645"/><rect x="1098.16" y="321.6" width="3" height="38.4" fill="#f23645"/><rect x="1103.75" y="312.0" width="1" height="44.4" fill="#089981"/><rect x="1102.75" y="319.6" width="3" height="36.0" fill="#089981"/><rect x="1108.34" y="274.4" width="1" height="60.0" fill="#089981"/><rect x="1107.34" y="287.0" width="3" height="42.0" fill="#089981"/><rect x="1112.94" y="284.0" width="1" height="36.0" fill="#f23645"/><rect x="1111.94" y="284.4" width="3" height="23.2" fill="#f23645"/><rect x="1117.53" y="262.0" width="1" height="49.6" fill="#089981"/><rect x="1116.53" y="277.0" width="3" height="30.6" fill="#089981"/><rect x="1122.12" y="258.0" width="1" height="41.6" fill="#f23645"/><rect x="1121.12" y="273.6" width="3" height="6.4" fill="#f23645"/><rect x="1126.71" y="276.0" width="1" height="43.6" fill="#089981"/><rect x="1125.71" y="277.0" width="3" height="2.6" fill="#089981"/><rect x="1131.30" y="229.0" width="1" height="37.4" fill="#089981"/><rect x="1130.30" y="235.0" width="3" height="31.4" fill="#089981"/><rect x="1135.89" y="225.0" width="1" height="18.0" fill="#089981"/><rect x="1134.89" y="231.6" width="3" height="4.8" fill="#089981"/></g><g font-family="Liberation Sans, sans-serif"><text x="-3.4" y="18.4" textLength="56.2" lengthAdjust="spacingAndGlyphs" font-size="12" fill="#20242f">View.com,</text><text x="57.2" y="18.4" textLength="18.3" lengthAdjust="spacingAndGlyphs" font-size="12" fill="#20242f">Apr</text><text x="78.3" y="18.4" textLength="16.1" lengthAdjust="spacingAndGlyphs" font-size="12" fill="#20242f">03,</text><text x="98.8" y="18.4" textLength="24.2" lengthAdjust="spacingAndGlyphs" font-size="12" fill="#20242f">2025</text><text x="127.6" y="18.4" textLength="27.8" lengthAdjust="spacingAndGlyphs" font-size="12" fill="#20242f">13:59</text><text x="159.6" y="18.4" textLength="50.8" lengthAdjust="spacingAndGlyphs" font-size="12" fill="#20242f">UTC+5:30</text><text x="-4.4" y="45.2" textLength="7.0" lengthAdjust="spacingAndGlyphs" font-size="12" fill="#20242f">0</text><text x="8.8" y="45.2" text-anchor="middle" font-size="12" font-weight="bold" fill="#20242f">·</text><text x="14.4" y="45.2" textLength="59.2" lengthAdjust="spacingAndGlyphs" font-size="12" fill="#20242f">BLACKBULL</text><text x="80.5" y="45.2" textLength="8.2" lengthAdjust="spacingAndGlyphs" font-size="12" fill="#20242f">O</text><text x="88.8" y="45.2" textLength="52.2" lengthAdjust="spacingAndGlyphs" font-size="12" fill="#f23645">41,511.50</text><text x="147.8" y="45.2" textLength="7.6" lengthAdjust="spacingAndGlyphs" font-size="12" fill="#20242f">H</text><text x="155.6" y="45.2" textLength="52.2" lengthAdjust="spacingAndGlyphs" font-size="12" fill="#f23645">41,543.50</text><text x="214.5" y="45.2" textLength="5.2" lengthAdjust="spacingAndGlyphs" font-size="12" fill="#20242f">L</text><text x="220.4" y="45.2" textLength="51.3" lengthAdjust="spacingAndGlyphs" font-size="12" fill="#f23645">41,032.50</text><text x="279.0" y="45.2" textLength="6.7" lengthAdjust="spacingAndGlyphs" font-size="12" fill="#20242f">C</text><text x="286.2" y="45.2" textLength="51.9" lengthAdjust="spacingAndGlyphs" font-size="12" fill="#f23645">41,216.50</text><text x="345.4" y="45.2" textLength="39.9" lengthAdjust="spacingAndGlyphs" font-size="12" fill="#f23645">−546.00</text><text x="390.8" y="45.2" textLength="43.8" lengthAdjust="spacingAndGlyphs" font-size="12" fill="#f23645">(−1.31%)</text><text x="-4.0" y="62.1" textLength="29.4" lengthAdjust="spacingAndGlyphs" font-size="12" fill="#2f66ff">37.54</text><text x="31.9" y="62.1" textLength="52.4" lengthAdjust="spacingAndGlyphs" font-size="12" fill="#2f66ff">40,878.06</text><text x="71.7" y="650" text-anchor="middle" font-size="11.6" fill="#20242f">May</text><text x="177.3" y="650" text-anchor="middle" font-size="11.6" fill="#20242f">Jun</text><text x="269.1" y="650" text-anchor="middle" font-size="11.6" fill="#20242f">Jul</text><text x="374.6" y="650" text-anchor="middle" font-size="11.6" fill="#20242f">Aug</text><text x="475.6" y="650" text-anchor="middle" font-size="11.6" fill="#20242f">Sep</text><text x="572.0" y="650" text-anchor="middle" font-size="11.6" fill="#20242f">Oct</text><text x="677.6" y="650" text-anchor="middle" font-size="11.6" fill="#20242f">Nov</text><text x="774.0" y="650" text-anchor="middle" font-size="11.6" fill="#20242f">Dec</text><text x="870.4" y="650" text-anchor="middle" font-size="11.6" fill="#20242f" font-weight="bold">2025</text><text x="971.4" y="650" text-anchor="middle" font-size="11.6" fill="#20242f">Feb</text><text x="1063.2" y="650" text-anchor="middle" font-size="11.6" fill="#20242f">Mar</text></g></svg>
</body></html>
